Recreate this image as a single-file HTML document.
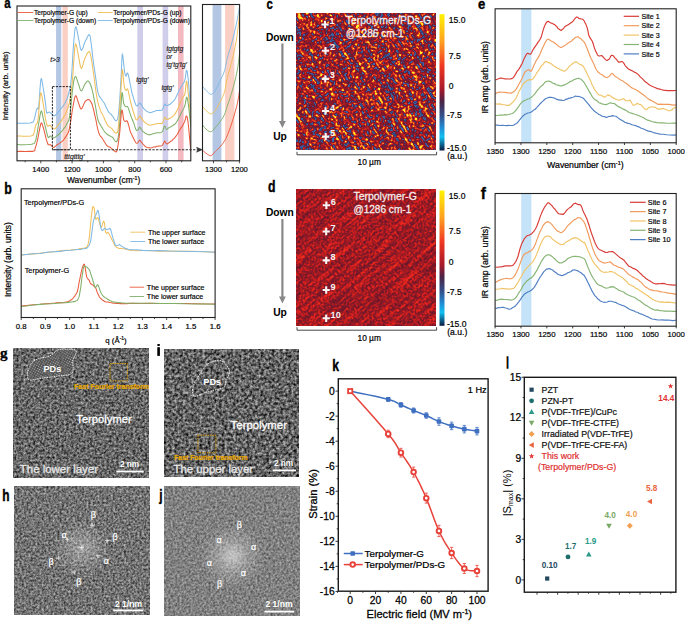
<!DOCTYPE html>
<html><head><meta charset="utf-8"><style>
html,body{margin:0;padding:0;background:#fff;width:685px;height:621px;overflow:hidden}
svg{display:block}
text{font-family:"Liberation Sans",sans-serif}
</style></head><body>
<svg width="685" height="621" viewBox="0 0 685 621" font-family="Liberation Sans, sans-serif">
<defs>
<filter id="hmc" x="0" y="0" width="1" height="1" color-interpolation-filters="sRGB" primitiveUnits="userSpaceOnUse">
 <feTurbulence type="fractalNoise" baseFrequency="0.42" numOctaves="1" seed="11" result="f"/>
 <feTurbulence type="fractalNoise" baseFrequency="0.03 0.28" numOctaves="2" seed="3" result="s"/>
 <feComposite in="f" in2="s" operator="arithmetic" k2="0.68" k3="0.32" result="m"/>
 <feColorMatrix in="m" type="matrix" values="3.0 0 0 0 -1.0  3.0 0 0 0 -1.0  3.0 0 0 0 -1.0  0 0 0 0 1" result="g"/>
 <feComponentTransfer in="g">
  <feFuncR type="table" tableValues="0.157 0.176 0.195 0.213 0.231 0.252 0.275 0.340 0.389 0.422 0.454 0.493 0.538 0.583 0.627 0.692 0.756 0.815 0.857 0.899 0.925 0.946 0.964 0.977 0.989 1.000"/>
  <feFuncG type="table" tableValues="0.275 0.322 0.369 0.403 0.426 0.347 0.235 0.157 0.114 0.106 0.098 0.095 0.097 0.100 0.102 0.113 0.125 0.147 0.204 0.260 0.359 0.473 0.597 0.731 0.840 0.941"/>
  <feFuncB type="table" tableValues="0.510 0.565 0.620 0.658 0.681 0.577 0.431 0.306 0.233 0.212 0.191 0.175 0.164 0.152 0.141 0.133 0.124 0.118 0.118 0.118 0.118 0.118 0.123 0.134 0.146 0.157"/>
 </feComponentTransfer>
</filter>
<filter id="hmd" x="0" y="0" width="1" height="1" color-interpolation-filters="sRGB" primitiveUnits="userSpaceOnUse">
 <feTurbulence type="fractalNoise" baseFrequency="0.5" numOctaves="2" seed="5" result="f"/>
 <feTurbulence type="fractalNoise" baseFrequency="0.03 0.3" numOctaves="2" seed="7" result="s"/>
 <feComposite in="f" in2="s" operator="arithmetic" k2="0.65" k3="0.35" result="m"/>
 <feColorMatrix in="m" type="matrix" values="2.4 0 0 0 -0.7  2.4 0 0 0 -0.7  2.4 0 0 0 -0.7  0 0 0 0 1" result="g"/>
 <feComponentTransfer in="g">
  <feFuncR type="table" tableValues="0.412 0.420 0.428 0.436 0.444 0.453 0.461 0.478 0.498 0.519 0.539 0.569 0.608 0.647 0.686 0.725 0.765 0.804 0.834 0.855 0.876 0.897 0.910 0.920 0.931 0.941"/>
  <feFuncG type="table" tableValues="0.086 0.088 0.089 0.090 0.091 0.093 0.094 0.096 0.097 0.099 0.101 0.103 0.105 0.108 0.110 0.114 0.119 0.123 0.129 0.135 0.141 0.147 0.162 0.180 0.198 0.216"/>
  <feFuncB type="table" tableValues="0.173 0.171 0.170 0.169 0.168 0.166 0.165 0.162 0.158 0.155 0.151 0.147 0.142 0.138 0.133 0.129 0.124 0.120 0.118 0.118 0.118 0.118 0.119 0.121 0.123 0.125"/>
 </feComponentTransfer>
</filter>
<filter id="temg" x="0" y="0" width="1" height="1" color-interpolation-filters="sRGB" primitiveUnits="userSpaceOnUse">
 <feTurbulence type="fractalNoise" baseFrequency="0.42" numOctaves="2" seed="2" result="n"/>
 <feColorMatrix in="n" type="matrix" values="1 0 0 0 0  1 0 0 0 0  1 0 0 0 0  0 0 0 0 1" result="g"/>
 <feComponentTransfer in="g">
  <feFuncR type="linear" slope="0.95" intercept="-0.07"/>
  <feFuncG type="linear" slope="0.95" intercept="-0.07"/>
  <feFuncB type="linear" slope="0.95" intercept="-0.07"/>
 </feComponentTransfer>
</filter>
<filter id="temi" x="0" y="0" width="1" height="1" color-interpolation-filters="sRGB" primitiveUnits="userSpaceOnUse">
 <feTurbulence type="fractalNoise" baseFrequency="0.36" numOctaves="2" seed="8" result="n"/>
 <feColorMatrix in="n" type="matrix" values="1 0 0 0 0  1 0 0 0 0  1 0 0 0 0  0 0 0 0 1" result="g"/>
 <feComponentTransfer in="g">
  <feFuncR type="linear" slope="1.1" intercept="-0.16"/>
  <feFuncG type="linear" slope="1.1" intercept="-0.16"/>
  <feFuncB type="linear" slope="1.1" intercept="-0.16"/>
 </feComponentTransfer>
</filter>
<filter id="temh" x="0" y="0" width="1" height="1" color-interpolation-filters="sRGB" primitiveUnits="userSpaceOnUse">
 <feTurbulence type="fractalNoise" baseFrequency="0.45" numOctaves="2" seed="4" result="n"/>
 <feColorMatrix in="n" type="matrix" values="1 0 0 0 0  1 0 0 0 0  1 0 0 0 0  0 0 0 0 1" result="g"/>
 <feComponentTransfer in="g">
  <feFuncR type="linear" slope="0.8" intercept="0.05"/>
  <feFuncG type="linear" slope="0.8" intercept="0.05"/>
  <feFuncB type="linear" slope="0.8" intercept="0.05"/>
 </feComponentTransfer>
</filter>
<filter id="temj" x="0" y="0" width="1" height="1" color-interpolation-filters="sRGB" primitiveUnits="userSpaceOnUse">
 <feTurbulence type="fractalNoise" baseFrequency="0.45" numOctaves="2" seed="9" result="n"/>
 <feColorMatrix in="n" type="matrix" values="1 0 0 0 0  1 0 0 0 0  1 0 0 0 0  0 0 0 0 1" result="g"/>
 <feComponentTransfer in="g">
  <feFuncR type="linear" slope="0.55" intercept="0.23"/>
  <feFuncG type="linear" slope="0.55" intercept="0.23"/>
  <feFuncB type="linear" slope="0.55" intercept="0.23"/>
 </feComponentTransfer>
</filter>
<radialGradient id="glowh" cx="0.5" cy="0.5" r="0.5"><stop offset="0" stop-color="#fff" stop-opacity="0.35"/><stop offset="1" stop-color="#fff" stop-opacity="0"/></radialGradient>
<radialGradient id="glowj" cx="0.5" cy="0.5" r="0.5"><stop offset="0" stop-color="#fff" stop-opacity="0.55"/><stop offset="0.5" stop-color="#fff" stop-opacity="0.2"/><stop offset="1" stop-color="#fff" stop-opacity="0"/></radialGradient>
<linearGradient id="cbar" x1="0" y1="0" x2="0" y2="1">
 <stop offset="0" stop-color="#fff200"/>
 <stop offset="0.2" stop-color="#ffa020"/>
 <stop offset="0.38" stop-color="#f03822"/>
 <stop offset="0.55" stop-color="#a8182a"/>
 <stop offset="0.64" stop-color="#4a2446"/>
 <stop offset="0.74" stop-color="#344e88"/>
 <stop offset="0.84" stop-color="#2090d8"/>
 <stop offset="0.9" stop-color="#10c0f2"/>
 <stop offset="1" stop-color="#0a1a40"/>
</linearGradient>
<clipPath id="clipc"><rect x="296" y="13" width="140" height="137"/></clipPath>
<clipPath id="clipd"><rect x="296" y="189" width="140" height="137"/></clipPath>
</defs>
<rect x="56.1" y="6" width="5.2" height="154.8" fill="#b3c6e3" stroke="none" stroke-width="1" />
<rect x="62.5" y="6" width="5.3" height="154.8" fill="#fbd0c4" stroke="none" stroke-width="1" />
<rect x="137.3" y="6" width="5.7" height="154.8" fill="#cfcdea" stroke="none" stroke-width="1" />
<rect x="162.6" y="6" width="5.6" height="154.8" fill="#cfcdea" stroke="none" stroke-width="1" />
<rect x="178" y="6" width="5.6" height="154.8" fill="#f4b9c0" stroke="none" stroke-width="1" />
<rect x="212.6" y="4.5" width="8.8" height="156.3" fill="#b3c6e3" stroke="none" stroke-width="1" />
<rect x="225.1" y="4.5" width="9.3" height="156.3" fill="#fbd0c4" stroke="none" stroke-width="1" />
<clipPath id="clipa"><rect x="17" y="6" width="173.8" height="155.5"/></clipPath><g clip-path="url(#clipa)">
<path d="M17 123.17 L19.55 123.29 L23.27 123.15 L27.1 123.17 L30 122.96 L31.62 122.44 L32.54 122.15 L33.12 122.07 L33.7 120.88 L34.31 119.34 L34.78 117.72 L35.18 115.35 L35.6 113.67 L36.05 111.87 L36.48 110.41 L36.9 108.84 L37.3 108.07 L37.65 108.24 L37.97 108.89 L38.3 109.14 L38.7 107.09 L39.19 100.92 L39.75 92.77 L40.33 84.47 L40.9 79.3 L41.45 78.51 L42 80.95 L42.55 84.09 L43.1 87.51 L43.67 90.84 L44.25 94.58 L44.81 98.59 L45.3 101.85 L45.69 105.3 L46 108.28 L46.31 111.2 L46.7 112.99 L47.19 113.17 L47.75 112.81 L48.33 112.17 L48.9 112.23 L49.43 112.16 L49.96 112.63 L50.5 112.92 L51.1 113.5 L51.79 114.03 L52.56 114.71 L53.31 115.44 L54 115.74 L54.53 115.87 L54.96 115.5 L55.43 115.13 L56.1 114.38 L57.04 113.44 L58.16 112 L59.35 110.34 L60.5 109.28 L61.6 108 L62.7 106.63 L63.78 105 L64.8 103.41 L65.77 101.35 L66.69 99.75 L67.57 97.39 L68.4 94.49 L69.19 91.33 L69.94 88.39 L70.64 84.34 L71.3 78.49 L71.9 71.31 L72.45 61.95 L72.97 52.58 L73.5 44.9 L74.01 38.81 L74.51 33.28 L75.02 28.69 L75.6 26.86 L76.27 27.27 L77.01 30.59 L77.76 34.34 L78.5 38.19 L79.19 41.77 L79.85 45.48 L80.54 49.07 L81.3 50.4 L82.15 49.61 L83.06 47.54 L84.02 44.3 L85 41.85 L86.07 39.7 L87.22 37.42 L88.31 35.3 L89.2 34.47 L89.81 35.43 L90.23 36.68 L90.59 39.31 L91 42.2 L91.5 45.73 L92.01 50.43 L92.55 55.39 L93.1 60.07 L93.68 64.2 L94.28 68.19 L94.89 72.17 L95.5 76.32 L96.08 80.38 L96.65 84.77 L97.24 89.05 L97.9 92.17 L98.64 94.53 L99.44 96.45 L100.27 97.45 L101.1 98.72 L101.9 99.69 L102.7 100.95 L103.52 102.15 L104.4 103.26 L105.37 105.47 L106.41 107.72 L107.44 109.62 L108.4 111.66 L109.26 112.69 L110.05 113.49 L110.82 113.92 L111.6 114.9 L112.44 116.12 L113.29 117.16 L114.11 118.5 L114.8 119.79 L115.33 120.53 L115.75 120.53 L116.12 120.71 L116.5 120.55 L116.91 120.03 L117.31 119.49 L117.7 118.38 L118.1 116.43 L118.5 113.62 L118.9 109.76 L119.3 105.36 L119.7 100.44 L120.11 93.8 L120.53 86.8 L120.94 79.53 L121.3 72.81 L121.59 66.59 L121.82 60.81 L122.07 55.85 L122.4 53.84 L122.87 56.04 L123.42 61.27 L123.99 66.81 L124.5 71.21 L124.94 73.48 L125.33 75.15 L125.71 75.72 L126.1 76.28 L126.48 75.36 L126.84 74.01 L127.24 72.94 L127.7 73.09 L128.27 74.7 L128.91 77.56 L129.57 80.9 L130.2 84.21 L130.76 86.74 L131.29 89.68 L131.85 92.29 L132.5 94.54 L133.31 97.36 L134.24 100.5 L135.14 103 L135.9 104.95 L136.43 105.68 L136.83 105.86 L137.18 105.83 L137.6 105.85 L138.12 105.06 L138.68 104.22 L139.25 103.42 L139.8 103.06 L140.28 103.3 L140.73 104.19 L141.21 104.64 L141.8 105.45 L142.53 106.9 L143.36 108 L144.26 109.18 L145.2 109.87 L146.19 110.95 L147.24 111.68 L148.32 111.91 L149.4 112.52 L150.47 112.61 L151.55 112.31 L152.63 111.91 L153.7 111.49 L154.76 111.23 L155.81 110.84 L156.85 110.44 L157.9 110.44 L158.99 110.25 L160.11 110.6 L161.17 110.16 L162.1 110.1 L162.86 108.72 L163.51 107.02 L164.07 105.27 L164.6 104.2 L165.06 103.99 L165.44 104.29 L165.83 105.4 L166.3 105.54 L166.87 105.6 L167.5 105.59 L168.18 105.21 L168.9 104.76 L169.67 104.55 L170.5 103.81 L171.35 103 L172.2 102.18 L173.04 101.63 L173.89 100.51 L174.75 99.57 L175.6 98.03 L176.45 96.25 L177.3 94.42 L178.15 92.52 L179 90.34 L179.87 89.01 L180.76 87.55 L181.61 86.08 L182.4 84.76 L183.11 83.3 L183.76 82.78 L184.35 81.93 L184.9 80.07 L185.38 77.6 L185.8 74.23 L186.19 71.45 L186.6 70.16 L187.03 71.01 L187.45 73.38 L187.87 76.22 L188.3 80.08 L188.74 85.06 L189.19 91.14 L189.62 97.17 L190 102.54 L190.32 105.99 L190.61 108.32 L190.84 110.55 L191 111.91" fill="none" stroke="#7fb9e6" stroke-width="1.05" stroke-linejoin="round" />
<path d="M17 135.91 L19.74 135.98 L23.72 136.21 L27.79 136.2 L30.8 135.93 L32.31 135.6 L32.98 135.36 L33.29 134.67 L33.7 133.83 L34.28 132.11 L34.79 129.57 L35.29 126.96 L35.8 124.94 L36.33 124.02 L36.87 123.73 L37.42 122.86 L38 119.94 L38.62 114.11 L39.28 105.71 L39.95 97.78 L40.6 93.14 L41.24 93.03 L41.88 95.77 L42.5 99.56 L43.1 103.4 L43.67 106.75 L44.23 110.55 L44.76 114.55 L45.3 117.9 L45.83 120.25 L46.35 122.71 L46.87 124.53 L47.4 125.99 L47.94 126.39 L48.49 125.76 L49.05 125.48 L49.6 125.25 L50.13 125.32 L50.66 125.99 L51.2 126.46 L51.8 127.36 L52.48 127.8 L53.21 128.46 L53.96 128.79 L54.7 128.78 L55.39 128.47 L56.06 127.74 L56.78 126.63 L57.6 125.84 L58.57 124.36 L59.66 123.04 L60.79 121.81 L61.9 119.77 L63.03 117.97 L64.19 115.98 L65.3 114.29 L66.3 111.84 L67.15 109.74 L67.89 108.13 L68.57 105.6 L69.2 103.47 L69.8 100.47 L70.34 97.33 L70.84 93.98 L71.3 90.34 L71.72 87.01 L72.11 83.12 L72.46 79.83 L72.8 75.81 L73.11 71.61 L73.39 66.69 L73.68 62.41 L74 58.22 L74.34 53.34 L74.69 48.88 L75.1 45.35 L75.6 43.86 L76.24 44.77 L76.97 48.01 L77.75 52.16 L78.5 56.06 L79.19 59.78 L79.85 63.62 L80.54 66.92 L81.3 68.45 L82.15 67.32 L83.06 64.39 L84.02 60.67 L85 58 L86.06 56 L87.19 53.58 L88.27 52.19 L89.2 51.43 L89.91 52.57 L90.46 54.52 L90.96 57.1 L91.5 60.01 L92.07 63.32 L92.64 67.23 L93.24 71.64 L93.9 75.92 L94.64 81.36 L95.45 87.82 L96.28 93.9 L97.1 98.71 L97.9 102.4 L98.7 105.47 L99.5 107.62 L100.3 109.88 L101.08 111.76 L101.84 113.45 L102.64 114.73 L103.5 116.37 L104.46 118.77 L105.5 121.33 L106.56 123.34 L107.6 125.4 L108.63 126.43 L109.66 127.37 L110.66 127.81 L111.6 128.38 L112.49 129.41 L113.34 130.49 L114.12 131.81 L114.8 132.54 L115.33 132.87 L115.75 133.16 L116.12 133.09 L116.5 133.04 L116.91 132.52 L117.31 132.73 L117.7 131.58 L118.1 129.45 L118.5 125.44 L118.9 120.36 L119.3 114.45 L119.7 108.43 L120.11 102.34 L120.53 96 L120.94 89.82 L121.3 84.15 L121.59 79.29 L121.84 74.66 L122.09 70.93 L122.4 69.56 L122.8 71.71 L123.25 76.65 L123.73 81.94 L124.2 86.03 L124.67 88.12 L125.16 89.18 L125.64 89.96 L126.1 90.48 L126.5 90.19 L126.86 89.5 L127.24 88.82 L127.7 89.2 L128.27 90.85 L128.91 94.18 L129.57 97.26 L130.2 100.26 L130.76 102.76 L131.29 104.57 L131.85 106.66 L132.5 109.27 L133.31 111.67 L134.24 114.63 L135.14 117.39 L135.9 119.29 L136.43 119.74 L136.83 119.96 L137.18 119.64 L137.6 119.19 L138.12 118.29 L138.68 117.35 L139.25 116.5 L139.8 115.75 L140.28 116.13 L140.73 116.72 L141.21 117.82 L141.8 118.98 L142.53 119.62 L143.36 120.98 L144.26 121.95 L145.2 122.4 L146.19 123.61 L147.24 124.07 L148.32 124.87 L149.4 125.23 L150.47 125.03 L151.55 125 L152.63 124.66 L153.7 124.45 L154.76 123.94 L155.81 123.93 L156.85 123.79 L157.9 123.49 L158.99 123.49 L160.11 123.52 L161.17 123.79 L162.1 123.33 L162.86 122.27 L163.51 120.43 L164.07 118.61 L164.6 117.34 L165.06 117.51 L165.44 118.07 L165.83 118.58 L166.3 119.39 L166.87 119.39 L167.5 119.11 L168.18 119.37 L168.9 118.72 L169.67 118.43 L170.5 118.1 L171.35 117.43 L172.2 116.73 L173.04 116.11 L173.89 115.32 L174.75 114.38 L175.6 113.14 L176.45 111.48 L177.3 109.87 L178.15 107.83 L179 105.72 L179.87 103.84 L180.76 101.62 L181.61 99.64 L182.4 98.04 L183.11 97.2 L183.76 96.09 L184.35 95.47 L184.9 93.77 L185.38 90.86 L185.8 86.42 L186.19 82.7 L186.6 81.15 L187.03 82.51 L187.45 85.84 L187.87 89.76 L188.3 94.07 L188.74 97.82 L189.19 102.45 L189.62 106.82 L190 110.61 L190.32 114 L190.61 116.57 L190.84 118.37 L191 119.84" fill="none" stroke="#f0bf5a" stroke-width="1.05" stroke-linejoin="round" />
<path d="M17 144.56 L19.86 144.7 L24.03 144.71 L28.3 144.58 L31.5 144.25 L33.2 143.71 L34.07 143.46 L34.55 142.71 L35.1 141.71 L35.72 140.14 L36.2 138.01 L36.68 135.5 L37.3 132.44 L38.13 126.99 L39.1 120.96 L40.07 115.08 L40.9 111.52 L41.53 110.81 L42.04 112.54 L42.53 115.21 L43.1 117.87 L43.79 120.66 L44.55 123.6 L45.31 126.53 L46 129.58 L46.6 131.87 L47.15 134.27 L47.67 136.27 L48.2 137.15 L48.71 137.74 L49.21 137.09 L49.72 136.23 L50.3 135.91 L50.93 136.29 L51.61 136.93 L52.35 137.84 L53.2 137.87 L54.2 137.77 L55.31 137.13 L56.47 136.12 L57.6 135.23 L58.68 134.49 L59.75 133.43 L60.82 131.93 L61.9 131.05 L63.01 129.72 L64.14 128.14 L65.25 126.82 L66.3 124.97 L67.27 123.05 L68.19 121.38 L69.07 118.98 L69.9 114.81 L70.68 109.04 L71.42 101.3 L72.12 93.34 L72.8 87.58 L73.44 83.08 L74.03 79.86 L74.64 77.48 L75.3 76.42 L76.06 76.84 L76.88 79.17 L77.71 81.89 L78.5 84.18 L79.21 86.11 L79.87 88.59 L80.55 90.32 L81.3 90.9 L82.17 90.04 L83.12 88.08 L84.09 85.84 L85 84.03 L85.83 82.91 L86.62 81.87 L87.4 81.06 L88.2 80.96 L89.02 81.81 L89.85 83 L90.68 84.99 L91.5 87.53 L92.31 90.33 L93.11 93.78 L93.9 98.05 L94.7 102.01 L95.5 106.32 L96.3 111.24 L97.1 115.99 L97.9 119.75 L98.68 121.96 L99.44 123.36 L100.24 124.61 L101.1 126.24 L102.06 127.62 L103.1 129.53 L104.16 131.05 L105.2 132.45 L106.23 133.5 L107.26 134.46 L108.26 135.02 L109.2 135.56 L110.06 136.06 L110.85 136.38 L111.62 136.86 L112.4 137.18 L113.24 138.13 L114.09 139.58 L114.91 140.72 L115.6 141.6 L116.13 141.57 L116.55 141.76 L116.92 141.39 L117.3 140.36 L117.7 139.71 L118.09 137.92 L118.48 135.7 L118.9 132.59 L119.37 127.33 L119.87 121.07 L120.36 114.18 L120.8 108.21 L121.16 102.94 L121.47 98.25 L121.77 94.1 L122.1 92.44 L122.46 93.35 L122.83 96.9 L123.24 100.52 L123.7 103.37 L124.26 104.84 L124.9 106.01 L125.54 106.46 L126.1 106.72 L126.52 106.6 L126.84 106.49 L127.2 106.43 L127.7 106.85 L128.43 108.39 L129.3 111.07 L130.2 113.93 L131 116.34 L131.66 117.92 L132.25 119.23 L132.81 120.76 L133.4 122.3 L134.04 123.79 L134.69 126.23 L135.33 127.89 L135.9 129.45 L136.37 130.27 L136.77 130.6 L137.16 130.16 L137.6 130.1 L138.12 129.66 L138.68 128.85 L139.25 127.5 L139.8 127.2 L140.28 127.79 L140.73 128.19 L141.21 129.28 L141.8 130.12 L142.53 131.05 L143.36 131.95 L144.26 132.3 L145.2 133.22 L146.19 133.77 L147.24 134.32 L148.32 134.55 L149.4 134.91 L150.47 134.54 L151.55 134.26 L152.63 133.79 L153.7 133.74 L154.76 133.35 L155.81 133.02 L156.85 132.75 L157.9 132.81 L158.99 132.67 L160.11 132.72 L161.17 132.4 L162.1 131.89 L162.86 130.39 L163.51 128.8 L164.07 126.71 L164.6 125.98 L165.06 126.42 L165.44 127.48 L165.83 128.41 L166.3 129.17 L166.87 129.4 L167.5 128.83 L168.18 128.32 L168.9 127.79 L169.67 127.19 L170.5 127.05 L171.35 126.58 L172.2 125.92 L173.04 125.43 L173.89 124.75 L174.75 124.26 L175.6 123.63 L176.45 121.98 L177.3 120.74 L178.15 118.91 L179 117.29 L179.87 115.92 L180.76 113.97 L181.61 112.16 L182.4 110.63 L183.11 109.56 L183.76 108.41 L184.35 106.93 L184.9 105.56 L185.38 103.69 L185.8 100.57 L186.19 98.36 L186.6 97.16 L187.03 97.77 L187.45 99.17 L187.87 101.5 L188.3 104.02 L188.74 107.23 L189.19 111.38 L189.62 115.51 L190 119.36 L190.32 121.66 L190.61 123.81 L190.84 126.01 L191 126.85" fill="none" stroke="#7fb06a" stroke-width="1.05" stroke-linejoin="round" />
<path d="M17 151.6 L20.2 151.22 L24.87 151.46 L29.6 151.31 L33 151.36 L34.5 150.83 L34.91 150.26 L34.89 149.53 L35.1 148.49 L35.61 146.94 L36.11 145.61 L36.65 143.61 L37.3 140.81 L38.13 137.04 L39.1 131.67 L40.07 126.87 L40.9 123.45 L41.53 122.87 L42.04 123.61 L42.53 125.41 L43.1 126.99 L43.79 129.44 L44.55 132.46 L45.31 135.3 L46 138.13 L46.6 140.3 L47.15 141.99 L47.67 143.61 L48.2 144.65 L48.71 144.85 L49.21 144.75 L49.72 144.8 L50.3 144.52 L50.97 145.2 L51.7 145.97 L52.46 146.92 L53.2 147.33 L53.89 147.56 L54.56 146.93 L55.27 146.29 L56.1 145.64 L57.1 144.82 L58.21 144.31 L59.37 143.37 L60.5 142.46 L61.58 141.83 L62.65 140.86 L63.72 139.76 L64.8 138.09 L65.91 136.67 L67.04 134.78 L68.15 132.84 L69.2 129.61 L70.17 124.56 L71.1 118.98 L71.97 112.6 L72.8 107.5 L73.55 103.65 L74.24 99.73 L74.91 97.04 L75.6 95.67 L76.32 95.88 L77.05 98.29 L77.78 100.67 L78.5 102.97 L79.19 104.85 L79.85 107.08 L80.54 108.66 L81.3 108.99 L82.15 107.92 L83.07 105.93 L84.03 103.63 L85 101.69 L86 100.6 L87.03 100.03 L88.04 99.52 L89 99.74 L89.88 100.43 L90.7 101.58 L91.5 103.02 L92.3 105.03 L93.11 107.79 L93.91 111.08 L94.7 114.61 L95.5 118.12 L96.28 121.73 L97.05 125.93 L97.84 129.4 L98.7 132.58 L99.64 134.96 L100.64 136.45 L101.67 137.48 L102.7 138.87 L103.72 140.87 L104.75 142.26 L105.78 143.98 L106.8 145.52 L107.83 146.41 L108.86 146.79 L109.86 147.17 L110.8 147.75 L111.69 148.65 L112.55 149.13 L113.33 150 L114 150.44 L114.51 151.09 L114.89 151.17 L115.23 151.64 L115.6 151.66 L116 151.89 L116.4 151.78 L116.82 150.99 L117.3 149.52 L117.86 146.23 L118.48 142.22 L119.1 137.44 L119.7 132.75 L120.25 126.55 L120.78 119.52 L121.3 113.28 L121.8 109.96 L122.3 110.41 L122.78 113.43 L123.25 117.29 L123.7 119.85 L124.11 120.58 L124.49 120.92 L124.88 121.33 L125.3 121.44 L125.75 121.19 L126.22 120.96 L126.73 120.68 L127.3 121.19 L127.98 122.99 L128.73 125.59 L129.5 128.74 L130.2 131.2 L130.79 132.76 L131.32 133.72 L131.86 134.9 L132.5 136.31 L133.31 137.98 L134.24 139.82 L135.14 141.52 L135.9 142.81 L136.43 143.17 L136.83 143.22 L137.18 143.22 L137.6 143.05 L138.12 142.26 L138.68 141.35 L139.25 140.56 L139.8 140.28 L140.28 140.7 L140.73 141.16 L141.21 142.22 L141.8 142.63 L142.53 143.53 L143.36 144.56 L144.26 145.4 L145.2 146.38 L146.19 146.97 L147.24 147.53 L148.32 147.75 L149.4 147.67 L150.47 147.92 L151.55 147.69 L152.63 147.36 L153.7 146.99 L154.76 146.98 L155.81 146.86 L156.85 146.22 L157.9 146.28 L158.99 146.01 L160.11 146.01 L161.17 146.03 L162.1 145.63 L162.86 144.5 L163.51 142.94 L164.07 142.07 L164.6 141.04 L165.06 141.38 L165.44 142.41 L165.83 143.07 L166.3 143.59 L166.87 143.98 L167.5 143.78 L168.18 143.13 L168.9 142.75 L169.67 142.2 L170.5 141.52 L171.35 140.9 L172.2 140.54 L173.04 139.36 L173.89 138.68 L174.75 137.8 L175.6 136.69 L176.45 135.59 L177.3 134.17 L178.15 132.64 L179 131.07 L179.87 129.85 L180.76 128.2 L181.61 127.13 L182.4 126.23 L183.11 124.52 L183.76 123.34 L184.35 122.17 L184.9 120.78 L185.38 119.33 L185.8 117.27 L186.19 115.99 L186.6 116.03 L187.03 116.56 L187.45 118.78 L187.87 120.99 L188.3 124.55 L188.74 128.53 L189.19 133.58 L189.62 138.42 L190 142.58 L190.32 146.1 L190.61 148.39 L190.84 150.41 L191 152.16" fill="none" stroke="#ea5b3e" stroke-width="1.05" stroke-linejoin="round" />
</g>
<rect x="52.4" y="86.6" width="18" height="63.1" fill="none" stroke="#222" stroke-width="1.0" stroke-dasharray="2.2 1.2"/>
<line x1="52.4" y1="149.7" x2="198" y2="149.7" stroke="#333" stroke-width="1.1" stroke-dasharray="2.4 1.3"/>
<path d="M196.5 147.2 L202.4 149.7 L196.5 152.2 L197.8 149.7 Z" fill="#333" stroke="#333" stroke-width="0.5"/>
<path d="M202.5 86.4 L203.38 87.41 L204.65 88.88 L206.04 90.43 L207.3 91.7 L208.36 92.71 L209.35 93.63 L210.32 94.26 L211.3 94.4 L212.27 94.03 L213.22 93.23 L214.21 92.02 L215.3 90.4 L216.56 88.18 L217.95 85.43 L219.34 82.51 L220.6 79.8 L221.72 77.45 L222.77 75.24 L223.73 72.98 L224.6 70.5 L225.32 67.72 L225.9 64.75 L226.48 61.65 L227.2 58.5 L228.1 55.33 L229.11 52.1 L230.17 48.75 L231.2 45.2 L232.23 41.32 L233.28 37.19 L234.29 33.07 L235.2 29.2 L235.99 25.64 L236.69 22.27 L237.32 19.06 L237.9 16 L238.46 12.9 L238.97 9.82 L239.4 7.16 L239.7 5.3" fill="none" stroke="#7fb9e6" stroke-width="0.95" stroke-linejoin="round" />
<path d="M202.5 106.4 L203.38 107.43 L204.65 108.92 L206.04 110.48 L207.3 111.7 L208.36 112.58 L209.35 113.3 L210.32 113.74 L211.3 113.8 L212.27 113.45 L213.22 112.76 L214.21 111.71 L215.3 110.3 L216.56 108.38 L217.95 106.01 L219.34 103.46 L220.6 101 L221.72 98.77 L222.77 96.6 L223.73 94.31 L224.6 91.7 L225.32 88.69 L225.9 85.38 L226.48 81.91 L227.2 78.4 L228.1 74.9 L229.11 71.35 L230.17 67.67 L231.2 63.8 L232.23 59.66 L233.28 55.32 L234.29 50.89 L235.2 46.5 L235.99 42.21 L236.69 37.93 L237.32 33.62 L237.9 29.2 L238.46 24.21 L238.97 18.82 L239.4 13.97 L239.7 10.6" fill="none" stroke="#f0bf5a" stroke-width="0.95" stroke-linejoin="round" />
<path d="M202.5 125 L203.38 126.05 L204.65 127.57 L206.04 129.13 L207.3 130.3 L208.36 131.03 L209.35 131.53 L210.32 131.74 L211.3 131.6 L212.27 131.03 L213.22 130.09 L214.21 128.91 L215.3 127.6 L216.56 126.14 L217.95 124.47 L219.34 122.72 L220.6 121 L221.72 119.36 L222.77 117.73 L223.73 116.06 L224.6 114.3 L225.32 112.51 L225.9 110.68 L226.48 108.69 L227.2 106.4 L228.1 103.75 L229.11 100.82 L230.17 97.68 L231.2 94.4 L232.23 90.9 L233.28 87.18 L234.29 83.42 L235.2 79.8 L235.99 76.42 L236.69 73.16 L237.32 69.89 L237.9 66.5 L238.46 62.58 L238.97 58.32 L239.4 54.47 L239.7 51.8" fill="none" stroke="#7fb06a" stroke-width="0.95" stroke-linejoin="round" />
<path d="M202.5 150.2 L203.38 150.98 L204.65 152.12 L206.04 153.3 L207.3 154.2 L208.36 154.84 L209.35 155.34 L210.32 155.6 L211.3 155.5 L212.27 154.93 L213.22 153.97 L214.21 152.8 L215.3 151.6 L216.56 150.35 L217.95 148.99 L219.34 147.58 L220.6 146.2 L221.72 144.87 L222.77 143.54 L223.73 142.22 L224.6 140.9 L225.32 139.7 L225.9 138.58 L226.48 137.3 L227.2 135.6 L228.1 133.39 L229.11 130.8 L230.17 127.96 L231.2 125 L232.23 121.8 L233.28 118.36 L234.29 114.91 L235.2 111.7 L235.99 108.87 L236.69 106.26 L237.32 103.7 L237.9 101 L238.46 97.83 L238.97 94.38 L239.4 91.27 L239.7 89.1" fill="none" stroke="#ea5b3e" stroke-width="0.95" stroke-linejoin="round" />
<rect x="17" y="6" width="173.8" height="154.8" fill="none" stroke="#222" stroke-width="1.1" />
<rect x="202.5" y="4.5" width="37.1" height="156.3" fill="none" stroke="#222" stroke-width="1.1" />
<line x1="25.15" y1="160.8" x2="25.15" y2="162.3" stroke="#222" stroke-width="0.8" />
<line x1="40.8" y1="160.8" x2="40.8" y2="163.3" stroke="#222" stroke-width="0.8" />
<line x1="56.45" y1="160.8" x2="56.45" y2="162.3" stroke="#222" stroke-width="0.8" />
<line x1="72.1" y1="160.8" x2="72.1" y2="163.3" stroke="#222" stroke-width="0.8" />
<line x1="87.75" y1="160.8" x2="87.75" y2="162.3" stroke="#222" stroke-width="0.8" />
<line x1="103.4" y1="160.8" x2="103.4" y2="163.3" stroke="#222" stroke-width="0.8" />
<line x1="119.05" y1="160.8" x2="119.05" y2="162.3" stroke="#222" stroke-width="0.8" />
<line x1="134.7" y1="160.8" x2="134.7" y2="163.3" stroke="#222" stroke-width="0.8" />
<line x1="150.35" y1="160.8" x2="150.35" y2="162.3" stroke="#222" stroke-width="0.8" />
<line x1="166" y1="160.8" x2="166" y2="163.3" stroke="#222" stroke-width="0.8" />
<line x1="181.65" y1="160.8" x2="181.65" y2="162.3" stroke="#222" stroke-width="0.8" />
<text x="40.8" y="171.6" font-size="7.6" text-anchor="middle" font-weight="normal" fill="#000" stroke="#000" stroke-width="0.186" >1400</text>
<text x="72.1" y="171.6" font-size="7.6" text-anchor="middle" font-weight="normal" fill="#000" stroke="#000" stroke-width="0.186" >1200</text>
<text x="103.4" y="171.6" font-size="7.6" text-anchor="middle" font-weight="normal" fill="#000" stroke="#000" stroke-width="0.186" >1000</text>
<text x="134.7" y="171.6" font-size="7.6" text-anchor="middle" font-weight="normal" fill="#000" stroke="#000" stroke-width="0.186" >800</text>
<text x="166" y="171.6" font-size="7.6" text-anchor="middle" font-weight="normal" fill="#000" stroke="#000" stroke-width="0.186" >600</text>
<line x1="213.5" y1="160.8" x2="213.5" y2="163.3" stroke="#222" stroke-width="0.8" />
<text x="213.5" y="171.6" font-size="7.6" text-anchor="middle" font-weight="normal" fill="#000" stroke="#000" stroke-width="0.186" >1300</text>
<line x1="239.4" y1="160.8" x2="239.4" y2="163.3" stroke="#222" stroke-width="0.8" />
<text x="239.4" y="171.6" font-size="7.6" text-anchor="middle" font-weight="normal" fill="#000" stroke="#000" stroke-width="0.186" >1200</text>
<line x1="226.5" y1="160.8" x2="226.5" y2="162.3" stroke="#222" stroke-width="0.8" />
<text x="103.6" y="182.6" font-size="8.4" text-anchor="middle" font-weight="normal" fill="#000" stroke="#000" stroke-width="0.205" >Wavenumber (cm<tspan dy="-3" font-size="5.3">-1</tspan><tspan dy="3">)</tspan></text>
<text x="8.1" y="85.8" font-size="7.83" text-anchor="middle" font-weight="normal" fill="#000" stroke="#000" stroke-width="0.191" transform="rotate(-90 8.1 85.8)">Intensity (arb. units)</text>
<line x1="17.6" y1="12.5" x2="33.4" y2="12.5" stroke="#ea5b3e" stroke-width="0.9" />
<text x="33.9" y="14.9" font-size="6.65" text-anchor="start" font-weight="normal" fill="#000" stroke="#000" stroke-width="0.163" >Terpolymer-G (up)</text>
<line x1="17.6" y1="20.5" x2="33.4" y2="20.5" stroke="#7fb06a" stroke-width="0.9" />
<text x="33.9" y="22.9" font-size="6.65" text-anchor="start" font-weight="normal" fill="#000" stroke="#000" stroke-width="0.163" >Terpolymer-G (down)</text>
<line x1="97.8" y1="12.5" x2="112.7" y2="12.5" stroke="#f0bf5a" stroke-width="0.9" />
<text x="113.2" y="14.9" font-size="6.65" text-anchor="start" font-weight="normal" fill="#000" stroke="#000" stroke-width="0.163" >Terpolymer/PDs-G (up)</text>
<line x1="97.8" y1="20.5" x2="112.7" y2="20.5" stroke="#7fb9e6" stroke-width="0.9" />
<text x="113.2" y="22.9" font-size="6.65" text-anchor="start" font-weight="normal" fill="#000" stroke="#000" stroke-width="0.163" >Terpolymer/PDs-G (down)</text>
<text x="50.2" y="62.4" font-size="7.6" text-anchor="start" font-weight="normal" fill="#1a1a1a" stroke="#1a1a1a" stroke-width="0.186" font-style="italic" textLength="9.6" lengthAdjust="spacingAndGlyphs">t&gt;3</text>
<text x="64.2" y="158.6" font-size="7.6" text-anchor="start" font-weight="normal" fill="#1a1a1a" stroke="#1a1a1a" stroke-width="0.186" font-style="italic" textLength="20.5" lengthAdjust="spacingAndGlyphs">tttgtttg&#8217;</text>
<text x="136.2" y="82.3" font-size="7.6" text-anchor="start" font-weight="normal" fill="#1a1a1a" stroke="#1a1a1a" stroke-width="0.186" font-style="italic" textLength="12.4" lengthAdjust="spacingAndGlyphs">tgtg&#8217;</text>
<text x="161.4" y="90" font-size="7.6" text-anchor="start" font-weight="normal" fill="#1a1a1a" stroke="#1a1a1a" stroke-width="0.186" font-style="italic" textLength="12.2" lengthAdjust="spacingAndGlyphs">tgtg&#8217;</text>
<text x="166.4" y="51" font-size="7.6" text-anchor="start" font-weight="normal" fill="#1a1a1a" stroke="#1a1a1a" stroke-width="0.186" font-style="italic" textLength="16.7" lengthAdjust="spacingAndGlyphs">tgtgtg</text>
<text x="166.4" y="58.7" font-size="7.6" text-anchor="start" font-weight="normal" fill="#1a1a1a" stroke="#1a1a1a" stroke-width="0.186" font-style="italic" textLength="5.6" lengthAdjust="spacingAndGlyphs">or</text>
<text x="166.4" y="66.9" font-size="7.6" text-anchor="start" font-weight="normal" fill="#1a1a1a" stroke="#1a1a1a" stroke-width="0.186" font-style="italic" textLength="20.6" lengthAdjust="spacingAndGlyphs">tg&#8217;tg&#8217;tg&#8217;</text>
<path d="M21.5 254.96 L26.24 254.53 L33.04 253.86 L40 253.22 L46.74 252.45 L53.65 251.85 L60 250.76 L65.67 250.39 L70.78 250.09 L75 249.47 L78.06 249.24 L80.22 248.57 L82 248.48 L83.49 248.15 L84.59 248.09 L85.5 247.84 L86.23 247.4 L86.76 247.28 L87.3 246.39 L87.9 244.98 L88.51 242.48 L89.1 238.73 L89.69 233.97 L90.26 227.53 L90.8 222.16 L91.3 217.12 L91.77 212.75 L92.2 209.89 L92.59 207.54 L92.94 206.53 L93.3 206.64 L93.67 207.02 L94.05 207.9 L94.4 209.93 L94.71 212.29 L95.01 215.44 L95.3 217.55 L95.6 218.93 L95.91 219.07 L96.2 219.23 L96.47 219.04 L96.73 218.34 L97 218.03 L97.29 217.65 L97.6 217.41 L97.9 217.48 L98.19 218.21 L98.47 219.31 L98.8 220.15 L99.2 221.9 L99.64 223.32 L100.1 224.7 L100.56 226.22 L101.04 227.11 L101.5 227.31 L101.96 226.35 L102.4 224.64 L102.8 222.78 L103.13 222.28 L103.41 221.13 L103.7 221.32 L104 221.74 L104.3 222.2 L104.6 224.04 L104.89 226.36 L105.17 229.57 L105.5 231.65 L105.9 232.68 L106.35 233.02 L106.8 233.43 L107.23 232.8 L107.67 232.58 L108.1 232.51 L108.51 232.97 L108.93 233.47 L109.4 234.43 L109.96 235.61 L110.58 236.99 L111.2 237.9 L111.77 239.35 L112.34 240.48 L113 241.78 L113.77 243.02 L114.63 245.27 L115.6 246.3 L116.7 247.27 L117.9 247.9 L119.2 248.41 L120.61 248.35 L122.1 248.73 L123.6 248.72 L125.08 249.01 L126.56 249.51 L128 249.84 L128.84 249.99 L129.64 250.12 L132 250.49 L136.52 250.78 L142.59 250.5 L150 250.57 L158.93 251.16 L169.19 251.05 L180 251.15 L192.59 251.34 L205.74 251.82 L215 252.16" fill="none" stroke="#f0bf5a" stroke-width="1.05" stroke-linejoin="round" />
<path d="M21.5 255.08 L26.24 254.57 L33.04 253.69 L40 253.41 L46.74 252.29 L53.65 251.84 L60 251.37 L65.67 250.41 L70.78 250.15 L75 249.82 L78.02 249.43 L80.16 249.4 L82 248.9 L83.74 248.85 L85.19 248.44 L86.4 248.37 L87.31 247.54 L87.98 246.92 L88.6 246.25 L89.25 245.01 L89.85 243.65 L90.4 241.58 L90.87 239.29 L91.28 236.71 L91.7 233.59 L92.16 229.96 L92.64 226.19 L93.1 222.82 L93.54 220.66 L93.97 219.28 L94.4 217.93 L94.84 216.83 L95.27 216.18 L95.7 215.42 L96.11 214.29 L96.52 213.29 L96.9 212.54 L97.25 211.59 L97.58 210.44 L97.9 210.34 L98.21 210.86 L98.5 211.94 L98.8 213.38 L99.1 215.24 L99.4 217.19 L99.7 219.6 L99.99 221.79 L100.27 224.38 L100.6 226.63 L101 228.18 L101.45 229.19 L101.9 230.32 L102.32 230.51 L102.74 230.41 L103.2 229.86 L103.71 229.56 L104.26 228.64 L104.8 228.39 L105.3 228.41 L105.78 229.03 L106.3 229.27 L106.88 229.45 L107.49 229.22 L108.1 229.27 L108.72 228.95 L109.34 228.53 L109.9 228.23 L110.37 229.01 L110.79 229.96 L111.2 231.09 L111.6 232.75 L112 234.53 L112.5 236.31 L113.18 238.73 L113.96 241.16 L114.7 243.57 L115.3 244.83 L115.85 245.27 L116.5 245.7 L117.37 245.57 L118.34 245.1 L119.2 244.54 L119.8 244.98 L120.3 245.21 L120.9 245.68 L121.7 246.06 L122.6 246.76 L123.6 247.44 L124.66 248.01 L125.8 248.7 L127.1 248.86 L128.14 249.17 L129.34 249.41 L132 249.68 L136.59 249.77 L142.63 250.36 L150 250.67 L158.93 250.62 L169.19 251.04 L180 251.16 L192.59 251.43 L205.74 251.85 L215 252.21" fill="none" stroke="#7fb9e6" stroke-width="1.05" stroke-linejoin="round" />
<path d="M21.5 306.04 L26.43 305.53 L33.41 304.73 L40 304.28 L45.41 303.74 L50.43 303.43 L55 303.05 L59.24 302.58 L63.04 302.69 L66 301.95 L67.72 301.8 L68.61 301.34 L69.5 300.86 L70.7 299.97 L71.9 299.45 L73 298.24 L73.96 296.97 L74.83 296.06 L75.6 294.6 L76.26 293.85 L76.84 292.78 L77.4 291.34 L77.97 288.98 L78.53 285.78 L79.1 282.46 L79.7 279.69 L80.3 276.64 L80.9 273.73 L81.49 271 L82.06 268.8 L82.6 266.83 L83.11 265.64 L83.59 264.74 L84 264.15 L84.31 264.17 L84.55 265.08 L84.8 265.65 L85.09 267.18 L85.4 269.27 L85.7 271.16 L85.99 272.78 L86.27 274.89 L86.6 276.6 L87 277.45 L87.45 278.3 L87.9 278.86 L88.33 279.36 L88.77 280.02 L89.2 280.24 L89.61 281.5 L90.03 282.64 L90.5 283.45 L91.07 283.85 L91.69 284.57 L92.3 284.7 L92.87 285.06 L93.43 285.41 L94 286.24 L94.6 286.57 L95.2 287.13 L95.8 288.19 L96.34 289.41 L96.86 291.36 L97.5 292.97 L98.3 294.59 L99.2 296.54 L100.2 298.06 L101.28 298.86 L102.44 300.11 L103.7 300.79 L105.04 301.69 L106.46 302 L108 302.07 L109.69 302.43 L111.5 302.68 L113.3 303.34 L114.99 303.18 L116.68 303.47 L118.6 303.49 L120.3 303.61 L122.23 303.57 L126 303.62 L132.36 303.27 L140.57 303.55 L150 303.3 L161.04 303.45 L173.3 303.42 L185 303.5 L196.48 303.78 L207.41 303.94 L215 304.03" fill="none" stroke="#ea5b3e" stroke-width="1.05" stroke-linejoin="round" />
<path d="M21.5 306.52 L26.43 305.93 L33.41 304.92 L40 304.38 L45.41 304 L50.43 303.84 L55 303.49 L59.17 303.09 L62.9 302.66 L66 302.84 L68.26 302.37 L69.88 302.11 L71.3 301.9 L72.63 301.73 L73.77 301.58 L74.8 301.61 L75.77 301.03 L76.63 300.61 L77.4 300.18 L78.03 299.1 L78.56 298.16 L79.1 296.67 L79.71 293.3 L80.33 289.93 L80.9 286.1 L81.37 282.37 L81.79 278.7 L82.2 275.64 L82.65 272.63 L83.1 269.47 L83.5 267.59 L83.8 266.64 L84.06 266.35 L84.4 266.22 L84.89 266.12 L85.47 266.52 L86.1 266.96 L86.83 267.06 L87.61 267.75 L88.3 268.66 L88.78 269.11 L89.16 269.53 L89.6 270.06 L90.16 271.86 L90.78 273.81 L91.4 275.75 L92 277.6 L92.61 279.37 L93.2 281.77 L93.79 283.48 L94.37 285.63 L94.9 287.13 L95.36 287.48 L95.78 287.08 L96.2 286.8 L96.63 286.38 L97.07 285.01 L97.5 284.76 L97.91 284.95 L98.33 285.6 L98.8 286.96 L99.35 288.28 L99.95 290.26 L100.6 292.14 L101.26 293.32 L101.96 294.45 L102.8 295.74 L103.87 296.77 L105.09 297.69 L106.3 298.12 L107.4 299.05 L108.51 299.73 L109.8 300.55 L111.4 301.14 L113.2 301.95 L115 302.14 L116.74 302.27 L118.5 302.76 L120.3 302.63 L121.49 302.99 L122.73 303.02 L126 303.31 L132.24 303.19 L140.51 303.28 L150 303.18 L161.04 303.44 L173.3 303.42 L185 303.83 L196.48 303.92 L207.41 303.95 L215 304.17" fill="none" stroke="#7fb06a" stroke-width="1.05" stroke-linejoin="round" />
<rect x="21.2" y="188.8" width="193.9" height="128.7" fill="none" stroke="#222" stroke-width="1.1" />
<line x1="21.2" y1="317.5" x2="21.2" y2="320" stroke="#222" stroke-width="0.8" />
<line x1="33.32" y1="317.5" x2="33.32" y2="319" stroke="#222" stroke-width="0.8" />
<line x1="45.44" y1="317.5" x2="45.44" y2="320" stroke="#222" stroke-width="0.8" />
<line x1="57.56" y1="317.5" x2="57.56" y2="319" stroke="#222" stroke-width="0.8" />
<line x1="69.68" y1="317.5" x2="69.68" y2="320" stroke="#222" stroke-width="0.8" />
<line x1="81.8" y1="317.5" x2="81.8" y2="319" stroke="#222" stroke-width="0.8" />
<line x1="93.92" y1="317.5" x2="93.92" y2="320" stroke="#222" stroke-width="0.8" />
<line x1="106.04" y1="317.5" x2="106.04" y2="319" stroke="#222" stroke-width="0.8" />
<line x1="118.16" y1="317.5" x2="118.16" y2="320" stroke="#222" stroke-width="0.8" />
<line x1="130.28" y1="317.5" x2="130.28" y2="319" stroke="#222" stroke-width="0.8" />
<line x1="142.4" y1="317.5" x2="142.4" y2="320" stroke="#222" stroke-width="0.8" />
<line x1="154.52" y1="317.5" x2="154.52" y2="319" stroke="#222" stroke-width="0.8" />
<line x1="166.64" y1="317.5" x2="166.64" y2="320" stroke="#222" stroke-width="0.8" />
<line x1="178.76" y1="317.5" x2="178.76" y2="319" stroke="#222" stroke-width="0.8" />
<line x1="190.88" y1="317.5" x2="190.88" y2="320" stroke="#222" stroke-width="0.8" />
<line x1="203" y1="317.5" x2="203" y2="319" stroke="#222" stroke-width="0.8" />
<line x1="215.12" y1="317.5" x2="215.12" y2="320" stroke="#222" stroke-width="0.8" />
<text x="21.2" y="328.9" font-size="7.8" text-anchor="middle" font-weight="normal" fill="#000" stroke="#000" stroke-width="0.191" >0.8</text>
<text x="45.44" y="328.9" font-size="7.8" text-anchor="middle" font-weight="normal" fill="#000" stroke="#000" stroke-width="0.191" >0.9</text>
<text x="69.68" y="328.9" font-size="7.8" text-anchor="middle" font-weight="normal" fill="#000" stroke="#000" stroke-width="0.191" >1.0</text>
<text x="93.92" y="328.9" font-size="7.8" text-anchor="middle" font-weight="normal" fill="#000" stroke="#000" stroke-width="0.191" >1.1</text>
<text x="118.16" y="328.9" font-size="7.8" text-anchor="middle" font-weight="normal" fill="#000" stroke="#000" stroke-width="0.191" >1.2</text>
<text x="142.4" y="328.9" font-size="7.8" text-anchor="middle" font-weight="normal" fill="#000" stroke="#000" stroke-width="0.191" >1.3</text>
<text x="166.64" y="328.9" font-size="7.8" text-anchor="middle" font-weight="normal" fill="#000" stroke="#000" stroke-width="0.191" >1.4</text>
<text x="190.88" y="328.9" font-size="7.8" text-anchor="middle" font-weight="normal" fill="#000" stroke="#000" stroke-width="0.191" >1.5</text>
<text x="215.12" y="328.9" font-size="7.8" text-anchor="middle" font-weight="normal" fill="#000" stroke="#000" stroke-width="0.191" >1.6</text>
<text x="116" y="343" font-size="7.8" text-anchor="middle" font-weight="normal" fill="#000" stroke="#000" stroke-width="0.191" >q (&#197;<tspan dy="-3" font-size="5">-1</tspan><tspan dy="3">)</tspan></text>
<text x="11" y="259.6" font-size="8.54" text-anchor="middle" font-weight="normal" fill="#000" stroke="#000" stroke-width="0.209" transform="rotate(-90 11 259.6)">Intensity (arb. units)</text>
<text x="23.9" y="205.2" font-size="7.35" text-anchor="start" font-weight="normal" fill="#000" stroke="#000" stroke-width="0.180" >Terpolymer/PDs-G</text>
<text x="24.7" y="272.9" font-size="7.35" text-anchor="start" font-weight="normal" fill="#000" stroke="#000" stroke-width="0.180" >Terpolymer-G</text>
<line x1="130.4" y1="232.2" x2="145.2" y2="232.2" stroke="#f0bf5a" stroke-width="0.9" />
<text x="147.9" y="234.8" font-size="7.1" text-anchor="start" font-weight="normal" fill="#000" stroke="#000" stroke-width="0.174" >The upper surface</text>
<line x1="130.4" y1="241.5" x2="145.2" y2="241.5" stroke="#7fb9e6" stroke-width="0.9" />
<text x="147.9" y="244.1" font-size="7.1" text-anchor="start" font-weight="normal" fill="#000" stroke="#000" stroke-width="0.174" >The lower surface</text>
<line x1="129.6" y1="287.2" x2="144.1" y2="287.2" stroke="#ea5b3e" stroke-width="0.9" />
<text x="146.8" y="289.8" font-size="7.1" text-anchor="start" font-weight="normal" fill="#000" stroke="#000" stroke-width="0.174" >The upper surface</text>
<line x1="129.6" y1="296.5" x2="144.1" y2="296.5" stroke="#7fb06a" stroke-width="0.9" />
<text x="146.8" y="299.1" font-size="7.1" text-anchor="start" font-weight="normal" fill="#000" stroke="#000" stroke-width="0.174" >The lower surface</text>
<g clip-path="url(#clipc)"><rect x="296" y="13" width="140" height="137" fill="#7a1a2a"/>
<g transform="rotate(57 366 81.5)"><rect x="256" y="-30" width="220" height="223" filter="url(#hmc)"/></g></g>
<g clip-path="url(#clipd)"><rect x="296" y="189" width="140" height="137" fill="#8a1a22"/>
<g transform="rotate(-40 366 257.5)"><rect x="256" y="146" width="220" height="223" filter="url(#hmd)"/></g></g>
<rect x="439.5" y="14.2" width="5" height="136.3" fill="url(#cbar)" stroke="none" stroke-width="1" />
<rect x="439.5" y="190.5" width="5" height="135.3" fill="url(#cbar)" stroke="none" stroke-width="1" />
<text x="448.8" y="23.1" font-size="8.6" text-anchor="start" font-weight="normal" fill="#000" stroke="#000" stroke-width="0.210" >15.0</text>
<text x="448.8" y="58.5" font-size="8.6" text-anchor="start" font-weight="normal" fill="#000" stroke="#000" stroke-width="0.210" >7.5</text>
<text x="448.8" y="88.9" font-size="8.6" text-anchor="start" font-weight="normal" fill="#000" stroke="#000" stroke-width="0.210" >0</text>
<text x="446.9" y="117.7" font-size="8.6" text-anchor="start" font-weight="normal" fill="#000" stroke="#000" stroke-width="0.210" >-7.5</text>
<text x="446.9" y="150.7" font-size="8.6" text-anchor="start" font-weight="normal" fill="#000" stroke="#000" stroke-width="0.210" >-15.0</text>
<text x="447.2" y="159" font-size="8.6" text-anchor="start" font-weight="normal" fill="#000" stroke="#000" stroke-width="0.210" >(a.u.)</text>
<text x="448.8" y="199.4" font-size="8.6" text-anchor="start" font-weight="normal" fill="#000" stroke="#000" stroke-width="0.210" >15.0</text>
<text x="448.8" y="234.1" font-size="8.6" text-anchor="start" font-weight="normal" fill="#000" stroke="#000" stroke-width="0.210" >7.5</text>
<text x="448.8" y="265.3" font-size="8.6" text-anchor="start" font-weight="normal" fill="#000" stroke="#000" stroke-width="0.210" >0</text>
<text x="446.9" y="294.5" font-size="8.6" text-anchor="start" font-weight="normal" fill="#000" stroke="#000" stroke-width="0.210" >-7.5</text>
<text x="446.9" y="326.6" font-size="8.6" text-anchor="start" font-weight="normal" fill="#000" stroke="#000" stroke-width="0.210" >-15.0</text>
<text x="447.2" y="335" font-size="8.6" text-anchor="start" font-weight="normal" fill="#000" stroke="#000" stroke-width="0.210" >(a.u.)</text>
<text x="345.8" y="24" font-size="10.3" text-anchor="start" font-weight="normal" fill="#f4eeee" stroke="#f4eeee" stroke-width="0.252" textLength="85.4" lengthAdjust="spacingAndGlyphs">Terpolymer/PDs-G</text>
<text x="345.8" y="36.6" font-size="10.3" text-anchor="start" font-weight="normal" fill="#f4eeee" stroke="#f4eeee" stroke-width="0.252" textLength="57.7" lengthAdjust="spacingAndGlyphs">@1286 cm-1</text>
<text x="353.4" y="200.3" font-size="10.3" text-anchor="start" font-weight="normal" fill="#f4eeee" stroke="#f4eeee" stroke-width="0.252" textLength="63.5" lengthAdjust="spacingAndGlyphs">Terpolymer-G</text>
<text x="353.4" y="213.4" font-size="10.3" text-anchor="start" font-weight="normal" fill="#f4eeee" stroke="#f4eeee" stroke-width="0.252" textLength="57.9" lengthAdjust="spacingAndGlyphs">@1286 cm-1</text>
<path d="M321.4 24.5 H328.6 M325 20.8 V28.2" stroke="#f8f4f4" stroke-width="2.1"/>
<text x="329.4" y="24" font-size="9.2" text-anchor="start" font-weight="bold" fill="#f8f4f4" >1</text>
<path d="M321.9 50.8 H329.1 M325.5 47.1 V54.5" stroke="#f8f4f4" stroke-width="2.1"/>
<text x="329.9" y="50.3" font-size="9.2" text-anchor="start" font-weight="bold" fill="#f8f4f4" >2</text>
<path d="M321.7 78.9 H328.9 M325.3 75.2 V82.6" stroke="#f8f4f4" stroke-width="2.1"/>
<text x="329.7" y="78.4" font-size="9.2" text-anchor="start" font-weight="bold" fill="#f8f4f4" >3</text>
<path d="M321.9 111 H329.1 M325.5 107.3 V114.7" stroke="#f8f4f4" stroke-width="2.1"/>
<text x="329.9" y="110.5" font-size="9.2" text-anchor="start" font-weight="bold" fill="#f8f4f4" >4</text>
<path d="M322.1 136.6 H329.3 M325.7 132.9 V140.3" stroke="#f8f4f4" stroke-width="2.1"/>
<text x="330.1" y="136.1" font-size="9.2" text-anchor="start" font-weight="bold" fill="#f8f4f4" >5</text>
<path d="M322.8 205.2 H330 M326.4 201.5 V208.9" stroke="#f8f4f4" stroke-width="2.1"/>
<text x="330.8" y="204.7" font-size="9.2" text-anchor="start" font-weight="bold" fill="#f8f4f4" >6</text>
<path d="M322.6 231.5 H329.8 M326.2 227.8 V235.2" stroke="#f8f4f4" stroke-width="2.1"/>
<text x="330.6" y="231" font-size="9.2" text-anchor="start" font-weight="bold" fill="#f8f4f4" >7</text>
<path d="M322.6 260.4 H329.8 M326.2 256.7 V264.1" stroke="#f8f4f4" stroke-width="2.1"/>
<text x="330.6" y="259.9" font-size="9.2" text-anchor="start" font-weight="bold" fill="#f8f4f4" >8</text>
<path d="M322.6 290 H329.8 M326.2 286.3 V293.7" stroke="#f8f4f4" stroke-width="2.1"/>
<text x="330.6" y="289.5" font-size="9.2" text-anchor="start" font-weight="bold" fill="#f8f4f4" >9</text>
<path d="M322.6 318.2 H329.8 M326.2 314.5 V321.9" stroke="#f8f4f4" stroke-width="2.1"/>
<text x="330.6" y="317.7" font-size="9.2" text-anchor="start" font-weight="bold" fill="#f8f4f4" >10</text>
<text x="279.9" y="40.6" font-size="10.25" text-anchor="middle" font-weight="bold" fill="#000" >Down</text>
<line x1="282.4" y1="43.5" x2="282.4" y2="122" stroke="#888" stroke-width="2.2" />
<path d="M279 121 L285.8 121 L282.4 128 Z" fill="#888"/>
<text x="280" y="140.2" font-size="10.25" text-anchor="middle" font-weight="bold" fill="#000" >Up</text>
<text x="279.9" y="216.1" font-size="10.25" text-anchor="middle" font-weight="bold" fill="#000" >Down</text>
<line x1="282.4" y1="219" x2="282.4" y2="297.5" stroke="#888" stroke-width="2.2" />
<path d="M279 296.5 L285.8 296.5 L282.4 303.5 Z" fill="#888"/>
<text x="280" y="315.7" font-size="10.25" text-anchor="middle" font-weight="bold" fill="#000" >Up</text>
<path d="M297 151.8 V154.8 H436.6 V151.8" fill="none" stroke="#333" stroke-width="0.9"/>
<path d="M297 327.2 V330.2 H436.6 V327.2" fill="none" stroke="#333" stroke-width="0.9"/>
<text x="369.2" y="165.2" font-size="8.4" text-anchor="middle" font-weight="normal" fill="#000" stroke="#000" stroke-width="0.205" >10 &#181;m</text>
<text x="369.2" y="340.5" font-size="8.4" text-anchor="middle" font-weight="normal" fill="#000" stroke="#000" stroke-width="0.205" >10 &#181;m</text>
<rect x="521.2" y="9" width="10.2" height="133.8" fill="#c5e3f8" stroke="none" stroke-width="1" />
<rect x="521.2" y="194" width="10.2" height="132" fill="#c5e3f8" stroke="none" stroke-width="1" />
<path d="M495.4 80.07 L496.66 79.48 L498.46 78.8 L500.3 77.98 L501.93 78.18 L503.6 78.75 L505.5 78.81 L507.89 79.02 L510.52 78.88 L512.8 78.18 L514.43 76.05 L515.71 73.88 L517 71.45 L518.44 69.82 L519.88 67.69 L521.2 65.13 L522.31 63.23 L523.3 60.65 L524.3 58.19 L525.36 56.24 L526.44 54.33 L527.5 53.21 L528.54 53.62 L529.57 54.04 L530.6 54.11 L531.59 52.78 L532.59 50.57 L533.7 48.68 L535.06 46.58 L536.53 44.65 L537.9 42.41 L539.04 40.87 L540.08 39.29 L541.1 37.3 L542.14 33.87 L543.17 29.87 L544.2 27 L545.23 24.62 L546.26 22.74 L547.3 21.62 L548.32 21.39 L549.36 22.08 L550.5 22.87 L551.87 23.21 L553.34 24.1 L554.7 24.54 L555.83 25.78 L556.84 26.66 L557.8 28.07 L558.74 29.04 L559.63 29.49 L560.5 30.13 L561.32 30.4 L562.12 29.55 L563 29.09 L564.02 27.76 L565.11 26.42 L566.2 25.78 L567.2 25.33 L568.19 24.67 L569.3 23.95 L570.66 23.01 L572.14 22.06 L573.5 20.65 L574.61 18.99 L575.6 17.85 L576.6 17.06 L577.66 17.22 L578.74 18.37 L579.8 18.61 L580.88 19.01 L581.94 19.01 L582.9 19.21 L583.67 20.33 L584.33 21.05 L585 22.69 L585.73 23.9 L586.48 25.86 L587.2 27.83 L587.84 30.5 L588.46 33.87 L589.2 36.38 L590.15 37.88 L591.22 39.7 L592.3 41.23 L593.36 44.31 L594.44 48.03 L595.5 50.89 L596.54 52.81 L597.57 55.13 L598.6 55.83 L599.59 55.95 L600.59 55.73 L601.7 55.5 L603.06 56.85 L604.53 58.64 L605.9 59.95 L607.06 60.45 L608.11 59.82 L609.1 59.26 L610.01 57.69 L610.86 55.95 L611.8 55.28 L612.92 55.46 L614.13 56.79 L615.3 58.32 L616.35 59.27 L617.37 60.68 L618.5 62.15 L619.83 62.16 L621.27 61.48 L622.7 61.71 L624.03 63.58 L625.35 65.87 L626.8 67.32 L628.44 68.98 L630.21 69.88 L632.1 70.76 L634.13 71.9 L636.27 73.08 L638.4 74.62 L640.47 77.16 L642.53 78.92 L644.6 81.22 L646.69 82.67 L648.8 84.55 L650.9 85.76 L653 86.69 L655.1 87.53 L657.2 88.63 L659.07 88.9 L660.94 89.53 L663.5 90.14 L667.67 90.58 L672.53 90.58 L676 90.47" fill="none" stroke="#d93a35" stroke-width="1.15" stroke-linejoin="round" />
<path d="M495.4 93.95 L496.62 93.06 L498.39 92.31 L500.3 92.06 L502.27 92.24 L504.38 92.32 L506.5 92.61 L508.67 92.9 L510.85 93.11 L512.8 92.38 L514.32 91.31 L515.6 89.86 L517 87.69 L518.73 84.56 L520.58 81.17 L522.2 78.05 L523.42 75.3 L524.41 73.1 L525.4 71.41 L526.46 70.8 L527.5 70 L528.5 69.88 L529.4 69.89 L530.25 71.24 L531.2 71.09 L532.31 69.31 L533.52 66.1 L534.8 63.6 L536.16 60.65 L537.58 58.6 L539 56.14 L540.4 53.18 L541.81 49.8 L543.2 46.72 L544.57 43.85 L545.93 41.24 L547.3 39.21 L548.69 39.28 L550.1 40.28 L551.5 41.22 L552.9 41.68 L554.3 42.72 L555.7 43.72 L557.14 44.85 L558.58 46.32 L559.9 47.13 L560.97 47.46 L561.93 47.21 L563 46.35 L564.32 45.81 L565.76 44.88 L567.2 43.73 L568.56 42.82 L569.93 41.87 L571.4 41.14 L573.1 39.54 L574.9 37.76 L576.6 37 L578.07 36.69 L579.44 37.93 L580.8 38.62 L582.2 40.09 L583.6 41.43 L585 43.34 L586.4 46.69 L587.8 50.28 L589.2 53.97 L590.6 57.43 L592 60.21 L593.4 63.11 L594.8 66.34 L596.21 69.5 L597.6 71.52 L598.97 72.81 L600.33 73.93 L601.7 74.5 L603.13 75.49 L604.57 76.91 L605.9 77.3 L607.06 77.58 L608.11 76.94 L609.1 76.46 L610.01 75.52 L610.86 74.15 L611.8 73.43 L612.88 73.77 L614.05 75.26 L615.3 76.39 L616.61 77.15 L617.99 78.14 L619.5 79.2 L621.15 80.15 L622.93 81.09 L624.8 82.47 L626.8 83.73 L628.89 85.54 L631 87.37 L633.06 88.41 L635.12 89.29 L637.3 90.55 L639.7 92.28 L642.2 94.03 L644.6 95.69 L646.74 97.61 L648.76 99.24 L650.9 100.37 L653.26 101.61 L655.72 102.96 L658.2 104.42 L660.55 104.17 L662.91 104.39 L665.6 104.24 L669.23 104.38 L673.19 105.08 L676 104.91" fill="none" stroke="#f09a5c" stroke-width="1.15" stroke-linejoin="round" />
<path d="M495.4 103.77 L497.28 104.13 L499.94 103.86 L502.4 104.8 L504.3 104.78 L506.01 105.31 L507.6 105.39 L509.07 105.41 L510.44 104.29 L511.8 103.22 L513.2 101.78 L514.61 100.16 L516 98.21 L517.37 95.36 L518.73 91.99 L520.1 89.48 L521.49 86.71 L522.9 84.24 L524.3 82.77 L525.7 81.74 L527.1 80.44 L528.5 79.9 L529.9 79.67 L531.3 79.87 L532.7 79.02 L534.1 77.38 L535.5 75.22 L536.9 72.6 L538.3 70.83 L539.71 68.81 L541.1 66.13 L542.51 65.05 L543.9 63.2 L545.2 61.57 L546.26 61.52 L547.22 61.89 L548.4 62.67 L549.99 63.02 L551.79 64.32 L553.6 65.74 L555.33 66.75 L557.06 67.98 L558.8 68.57 L560.6 69.85 L562.41 70.48 L564.1 71.3 L565.59 70.66 L566.95 69.1 L568.3 67.7 L569.71 65.78 L571.1 64.87 L572.4 63.73 L573.5 62.93 L574.49 62.04 L575.6 62.16 L576.93 62.13 L578.37 63.44 L579.8 64.32 L581.13 64.67 L582.45 65.39 L583.9 67.45 L585.62 70.57 L587.47 74.56 L589.2 77.99 L590.68 80.91 L592.04 84.82 L593.4 87.01 L594.8 90.16 L596.21 91.73 L597.6 93.55 L599.01 95.01 L600.4 95.01 L601.7 95.48 L602.84 96.34 L603.87 96.94 L604.9 97.11 L605.94 96.34 L606.96 95.6 L608 94.69 L609.03 95.49 L610.06 95.57 L611.2 96.55 L612.5 97.56 L613.89 98.09 L615.3 99.11 L616.69 99.55 L618.1 99.85 L619.5 100.31 L620.94 99.73 L622.38 98.94 L623.7 98.79 L624.81 99.79 L625.8 100.77 L626.8 100.74 L627.86 100.98 L628.94 100.41 L630 100.02 L631 101.59 L631.99 103.46 L633.1 105.23 L634.42 105.09 L635.86 104.32 L637.3 103.27 L638.7 104.3 L640.1 104.4 L641.5 105.11 L642.9 106.9 L644.3 108.42 L645.7 109.39 L647.1 109.28 L648.5 107.73 L649.9 107.33 L651.3 106.79 L652.71 107.01 L654.1 107.08 L655.47 107.29 L656.83 108.64 L658.2 109.06 L659.59 109.15 L661 108.88 L662.4 108.66 L663.8 108.69 L665.2 109.26 L666.6 109.72 L668.04 110.43 L669.48 110.88 L670.8 110.07 L671.95 110.1 L672.98 108.58 L673.9 108.02 L674.75 107.6 L675.49 107.69 L676 107.14" fill="none" stroke="#f0c468" stroke-width="1.15" stroke-linejoin="round" />
<path d="M495.4 115.51 L497.24 115.51 L499.87 114.97 L502.4 115.14 L504.56 114.69 L506.63 114.86 L508.6 114.45 L510.47 113.96 L512.25 113.51 L513.9 112.46 L515.39 110.93 L516.75 109.1 L518.1 107.32 L519.47 105.23 L520.83 103.39 L522.2 102.08 L523.59 101.01 L525 100.19 L526.4 99.71 L527.8 99.03 L529.2 98.73 L530.6 97.64 L532 96.8 L533.4 95.43 L534.8 93.94 L536.2 91.87 L537.6 90.01 L539 88.65 L540.4 86.74 L541.81 85.85 L543.2 84.53 L544.53 82.77 L545.85 81.61 L547.3 81.24 L548.98 81.13 L550.8 81.75 L552.6 83 L554.34 83.6 L556.07 84.77 L557.8 85.08 L559.57 85.64 L561.34 85.97 L563 85.41 L564.47 84.89 L565.84 84.22 L567.2 83.45 L568.6 82.75 L570 81.55 L571.4 81.1 L572.8 80.48 L574.2 79.55 L575.6 79.11 L577 78.54 L578.41 78.43 L579.8 78.76 L581.13 79.32 L582.45 80.59 L583.9 82.21 L585.62 85.03 L587.47 88.25 L589.2 91.41 L590.68 93.85 L592.04 96.31 L593.4 98.19 L594.8 99.64 L596.21 100.34 L597.6 101.34 L598.97 102.73 L600.33 103.13 L601.7 103.86 L603.09 104.07 L604.5 104.5 L605.9 104.61 L607.3 104.16 L608.7 103.59 L610.1 102.81 L611.5 103.18 L612.9 103.45 L614.3 103.51 L615.66 104.51 L617.03 105.78 L618.5 106.64 L620.12 107.42 L621.85 108.28 L623.7 109.41 L625.72 110.15 L627.86 111.76 L630 112.68 L632.06 113.36 L634.13 114.07 L636.3 114.68 L638.7 115.53 L641.2 116.76 L643.6 117.8 L645.74 119.19 L647.76 120.17 L649.9 120.75 L652.18 121.8 L654.57 122.17 L657.2 122.57 L660.18 122.88 L663.39 122.82 L666.6 123.24 L670.08 123.27 L673.56 123.14 L676 123.16" fill="none" stroke="#86b474" stroke-width="1.15" stroke-linejoin="round" />
<path d="M495.4 125.16 L497.24 125.08 L499.87 125.47 L502.4 125.24 L504.56 125.53 L506.63 125.69 L508.6 125.41 L510.47 125.54 L512.25 125.53 L513.9 125.07 L515.39 124.06 L516.75 123.44 L518.1 122 L519.47 120.15 L520.83 118.46 L522.2 116.74 L523.59 115.44 L525 114.29 L526.4 113.8 L527.8 113.03 L529.2 112.72 L530.6 112.26 L532 111.64 L533.4 110.17 L534.8 109.47 L536.2 108.25 L537.6 106.51 L539 105.14 L540.4 103.49 L541.81 102.14 L543.2 100.93 L544.53 99.51 L545.85 98.47 L547.3 98.04 L548.98 97.4 L550.8 97.25 L552.6 97.68 L554.34 98 L556.07 99.09 L557.8 99.58 L559.57 100.16 L561.34 100.07 L563 100.46 L564.47 100.22 L565.84 99.19 L567.2 99.16 L568.6 98.32 L570 98.17 L571.4 97.6 L572.8 97.22 L574.2 96.66 L575.6 95.94 L577 96.45 L578.41 96.36 L579.8 96.82 L581.13 97.29 L582.45 97.75 L583.9 98.77 L585.62 100.82 L587.47 103.06 L589.2 105.07 L590.68 107.22 L592.04 108.73 L593.4 110.11 L594.8 111.5 L596.21 112.41 L597.6 113.39 L598.97 114.56 L600.33 115.03 L601.7 115.94 L603.09 116.45 L604.5 116.55 L605.9 117.39 L607.3 117.26 L608.7 116.38 L610.1 116.54 L611.46 115.91 L612.83 115.61 L614.3 115.98 L615.96 116.31 L617.72 117.64 L619.5 119.06 L621.26 120 L623.04 120.92 L624.8 122.19 L626.5 122.86 L628.19 123.4 L630 123.77 L631.98 124.73 L634.09 125.29 L636.3 125.92 L638.7 126.86 L641.2 128.29 L643.6 129.07 L645.74 130.05 L647.76 130.84 L649.9 131.37 L652.18 132 L654.57 132.93 L657.2 133.45 L660.18 134.1 L663.39 134.26 L666.6 134.8 L670.08 135.02 L673.56 135.1 L676 134.94" fill="none" stroke="#4f7fc2" stroke-width="1.15" stroke-linejoin="round" />
<path d="M495.4 266.97 L497.28 267.26 L499.94 266.94 L502.4 266.57 L504.3 266.13 L506.01 265.77 L507.6 265.81 L509.11 265.78 L510.52 265.93 L511.8 265.78 L512.91 265.32 L513.9 264.15 L514.9 262.85 L515.96 261.31 L517.04 258.79 L518.1 255.93 L519.14 252.01 L520.17 248.24 L521.2 245.06 L522.23 242.63 L523.26 240.68 L524.3 238.66 L525.33 237.62 L526.36 236.38 L527.5 235.55 L528.8 235.25 L530.19 234.62 L531.6 233.78 L533.03 232.24 L534.47 230.57 L535.8 228.33 L536.9 225.92 L537.9 223.32 L539 220.3 L540.33 216.34 L541.77 212.63 L543.2 209.79 L544.65 207.06 L546.09 205.01 L547.3 203.23 L548.07 202.74 L548.62 202.72 L549.4 203.59 L550.64 204.34 L552.12 205.98 L553.6 207.79 L555.04 209.22 L556.48 211.31 L557.8 212.95 L558.91 213.87 L559.9 213.97 L560.9 214.12 L561.96 214.1 L563.04 214.51 L564.1 213.55 L565.1 212.39 L566.09 211.1 L567.2 209.59 L568.56 208.6 L570.04 207.37 L571.4 206.67 L572.51 205.06 L573.5 203.96 L574.5 203.5 L575.56 203.17 L576.64 203.79 L577.7 204.53 L578.74 204.65 L579.77 204.54 L580.8 205.29 L581.85 207.47 L582.9 210.43 L583.9 212.72 L584.84 214.5 L585.73 216.54 L586.5 218.04 L587.05 219.49 L587.49 220.63 L588.1 222.45 L589.05 225.28 L590.18 229.31 L591.3 232.58 L592.32 235.55 L593.33 238.32 L594.4 241.26 L595.56 243.97 L596.77 246.21 L598 248.32 L599.21 249.42 L600.43 249.92 L601.7 250.44 L603.06 251.22 L604.48 251.88 L605.9 252.54 L607.3 252.49 L608.7 251.82 L610.1 251.7 L611.5 251.6 L612.9 251.66 L614.3 252.66 L615.66 253.93 L617.03 255.12 L618.5 256.41 L620.16 257.74 L621.93 258.67 L623.7 259.94 L625.47 262.18 L627.24 264.32 L628.9 266.28 L630.33 266.8 L631.66 267.6 L633.1 268.37 L634.83 268.9 L636.68 269.97 L638.4 271.54 L639.81 272.97 L641.09 273.92 L642.5 275.68 L644.18 276.79 L646 278.55 L647.8 279.79 L649.58 280.76 L651.34 281.86 L653 283.06 L654.44 283.47 L655.76 283.93 L657.2 283.84 L658.82 283.65 L660.55 283.7 L662.4 283.4 L664.38 283.62 L666.49 284.19 L668.7 284.73 L671.33 284.94 L674.07 285.18 L676 284.95" fill="none" stroke="#d93a35" stroke-width="1.15" stroke-linejoin="round" />
<path d="M495.4 282.6 L496.66 281.76 L498.46 280.82 L500.3 279.88 L502.01 279.24 L503.76 278.74 L505.5 278.47 L507.27 278.44 L509.04 278.75 L510.7 278.83 L512.17 278.32 L513.54 277.12 L514.9 275.45 L516.3 272.65 L517.7 269.68 L519.1 266.39 L520.5 262.37 L521.9 258.47 L523.3 255.52 L524.7 254.01 L526.11 253.09 L527.5 252.78 L528.87 251.65 L530.23 251.33 L531.6 250.17 L532.99 248.6 L534.4 246.2 L535.8 242.91 L537.2 239.16 L538.6 235.25 L540 231.65 L541.41 228.92 L542.83 225.94 L544.2 224.07 L545.51 222.74 L546.77 221.92 L548 221.64 L549.16 222.29 L550.29 223.14 L551.5 224.13 L552.85 225.74 L554.27 227.72 L555.7 229.3 L557.14 230.86 L558.58 231.52 L559.9 232.23 L560.97 232.61 L561.93 232.25 L563 231.46 L564.32 230.4 L565.76 228.48 L567.2 226.31 L568.6 224.91 L570 223.76 L571.4 222.19 L572.84 220.86 L574.28 219.7 L575.6 219.37 L576.71 218.55 L577.71 217.75 L578.7 217.62 L579.73 217.75 L580.76 218.08 L581.8 219.39 L582.82 220.38 L583.86 221.73 L585 224.01 L586.33 227.87 L587.76 232.2 L589.2 236.98 L590.6 241.61 L592 246.35 L593.4 250.29 L594.8 253.65 L596.21 256.5 L597.6 258.66 L598.97 260.55 L600.33 261.29 L601.7 262.08 L603.09 262.87 L604.5 262.76 L605.9 263.02 L607.3 262.45 L608.7 262.27 L610.1 261.7 L611.5 262.96 L612.9 264.2 L614.3 265.29 L615.66 265.62 L617.03 266.4 L618.5 267.33 L620.16 267.54 L621.93 268.36 L623.7 269.28 L625.43 271.15 L627.16 272.85 L628.9 274.71 L630.66 275.6 L632.44 276.89 L634.2 277.65 L635.9 278.87 L637.59 279.29 L639.4 281 L641.42 282.61 L643.56 285.14 L645.7 287.12 L647.8 288.24 L649.91 289.63 L652 290.09 L654.07 290.6 L656.13 290.76 L658.2 291.18 L660.1 291.58 L662.01 292.02 L664.5 292.22 L668.37 293.11 L672.83 293.58 L676 294.34" fill="none" stroke="#f09a5c" stroke-width="1.15" stroke-linejoin="round" />
<path d="M495.4 289.08 L496.66 289.26 L498.46 289.02 L500.3 288.79 L502.01 288.36 L503.76 288.58 L505.5 288.83 L507.27 288.74 L509.04 289.18 L510.7 289.07 L512.14 288.52 L513.46 288.55 L514.9 287.18 L516.6 284.48 L518.4 281.7 L520.1 278.57 L521.57 276.01 L522.94 273.59 L524.3 271.18 L525.7 269.27 L527.1 267.61 L528.5 266.2 L529.9 264.63 L531.3 263.39 L532.7 262.04 L534.1 259.42 L535.5 256.95 L536.9 253.64 L538.3 250.24 L539.71 246.27 L541.1 243.3 L542.47 240.23 L543.83 238.09 L545.2 236.56 L546.59 236.19 L548 236.14 L549.4 236.21 L550.8 237.26 L552.2 238.89 L553.6 240.06 L555 240.88 L556.4 242.02 L557.8 242.89 L559.2 243.71 L560.6 244.56 L562 244.54 L563.4 244.47 L564.81 243.1 L566.2 242.11 L567.57 241.31 L568.93 240.53 L570.3 239.79 L571.69 238.81 L573.1 238.14 L574.5 237.85 L575.9 237.66 L577.3 238.24 L578.7 239.02 L580.18 240.16 L581.66 241.26 L582.9 242.2 L583.68 242.44 L584.22 242.17 L585 243.4 L586.24 246.19 L587.72 250.13 L589.2 253.36 L590.6 256.57 L592 259.51 L593.4 262.17 L594.8 264.2 L596.21 265.73 L597.6 267 L598.97 268.95 L600.33 270.52 L601.7 271.43 L603.09 271.96 L604.5 272.33 L605.9 272.19 L607.3 272.27 L608.7 271.95 L610.1 271.41 L611.5 271.63 L612.9 272.03 L614.3 272.22 L615.66 273.57 L617.03 274.54 L618.5 275.42 L620.16 276.31 L621.93 277.36 L623.7 278.75 L625.43 280.47 L627.16 282.13 L628.9 284.16 L630.66 285.04 L632.44 286.09 L634.2 286.87 L635.9 288.38 L637.59 288.87 L639.4 290.44 L641.42 291.54 L643.56 293 L645.7 294.44 L647.8 295.7 L649.91 297.53 L652 298.9 L654.07 300.01 L656.13 300.97 L658.2 301.47 L660.1 302.22 L662.01 301.92 L664.5 302.34 L668.37 302.18 L672.83 302.65 L676 303" fill="none" stroke="#f0c468" stroke-width="1.15" stroke-linejoin="round" />
<path d="M495.4 300.41 L496.66 300.35 L498.46 299.67 L500.3 299.32 L502.01 299.19 L503.76 299.51 L505.5 299.46 L507.27 299.56 L509.04 299.74 L510.7 300.1 L512.14 300.03 L513.46 299.44 L514.9 298.56 L516.6 296.68 L518.4 293.56 L520.1 291.02 L521.57 288.63 L522.94 285.89 L524.3 283.83 L525.7 282.27 L527.1 280.71 L528.5 279.71 L529.9 278.56 L531.3 277.87 L532.7 276.5 L534.1 274.9 L535.5 272.4 L536.9 270.4 L538.3 267.35 L539.71 264.86 L541.1 261.96 L542.49 259.6 L543.87 257.57 L545.2 256.17 L546.43 255.26 L547.6 254.83 L548.8 254.75 L550.04 254.95 L551.3 256.01 L552.6 256.9 L553.94 258.24 L555.31 259.52 L556.7 260.86 L558.09 261.95 L559.5 262.93 L560.9 263.02 L562.3 262.67 L563.7 261.8 L565.1 261.14 L566.5 259.74 L567.9 258.41 L569.3 257.84 L570.7 257.27 L572.1 256.71 L573.5 256.36 L574.9 256.43 L576.31 256.34 L577.7 256.76 L579.11 256.69 L580.5 257.03 L581.8 257.67 L582.9 258.04 L583.89 258.45 L585 259.63 L586.33 262.95 L587.76 266.69 L589.2 270.14 L590.6 273.25 L592 276.15 L593.4 278.54 L594.8 280.53 L596.21 282.76 L597.6 284.18 L598.97 284.93 L600.33 285.63 L601.7 285.95 L603.09 287 L604.5 287.46 L605.9 288.25 L607.3 288 L608.7 287.72 L610.1 286.86 L611.5 287.09 L612.9 286.61 L614.3 287.12 L615.66 288.21 L617.03 288.83 L618.5 290.05 L620.16 290.82 L621.93 291.46 L623.7 292.04 L625.43 293.53 L627.16 294.59 L628.9 295.34 L630.66 296.05 L632.44 296.81 L634.2 297.23 L635.9 298.17 L637.59 299.76 L639.4 300.58 L641.42 302.03 L643.56 303.73 L645.7 305.19 L647.8 306.37 L649.91 307.68 L652 308.88 L654.07 309.85 L656.13 310.09 L658.2 309.92 L660.1 310.68 L662.01 310.76 L664.5 311.08 L668.37 310.98 L672.83 311.36 L676 311.4" fill="none" stroke="#86b474" stroke-width="1.15" stroke-linejoin="round" />
<path d="M495.4 308.42 L496.66 308.34 L498.46 307.61 L500.3 307.73 L502.05 307.23 L503.83 307.42 L505.5 308.04 L506.97 308.22 L508.34 309.08 L509.7 309.22 L511.06 308.78 L512.43 307.73 L513.9 307.02 L515.6 305.7 L517.4 303.6 L519.1 301.45 L520.57 299.4 L521.94 297.19 L523.3 295.53 L524.66 293.95 L526.03 293.03 L527.5 292.14 L529.2 291.45 L531 290.57 L532.7 289.02 L534.17 287.36 L535.54 285.32 L536.9 282.85 L538.3 280.2 L539.71 277.7 L541.1 275.76 L542.49 273.58 L543.87 271.56 L545.2 270.38 L546.43 269.1 L547.6 269.08 L548.8 268.56 L550.04 268.88 L551.3 269.52 L552.6 270.03 L553.94 271.33 L555.31 272.26 L556.7 273.25 L558.09 274.47 L559.5 274.82 L560.9 275.37 L562.3 275.61 L563.7 274.91 L565.1 274.37 L566.46 273.79 L567.83 272.67 L569.3 272.24 L571 271.43 L572.8 270.05 L574.5 269.88 L575.97 270.19 L577.34 270.5 L578.7 271.56 L580.18 272.27 L581.66 273.26 L582.9 274.53 L583.68 275.14 L584.22 275.39 L585 276.69 L586.24 279.11 L587.72 281.98 L589.2 285 L590.6 288.09 L592 290.87 L593.4 293.31 L594.8 295.64 L596.21 296.91 L597.6 298.77 L598.97 299.7 L600.33 301.01 L601.7 301.54 L603.09 302.04 L604.5 302.32 L605.9 302.27 L607.3 302.04 L608.7 301.33 L610.1 301.29 L611.5 301.25 L612.9 301.76 L614.3 302.1 L615.66 302.31 L617.03 303.23 L618.5 303.93 L620.16 304.48 L621.93 305.33 L623.7 305.71 L625.43 306.69 L627.16 307.71 L628.9 309 L630.66 309.73 L632.44 310.4 L634.2 310.96 L635.9 311.96 L637.59 312.2 L639.4 313.44 L641.42 314.08 L643.56 314.97 L645.7 316.07 L647.8 316.86 L649.91 317.98 L652 318.99 L654.07 319.29 L656.13 319.66 L658.2 319.97 L660.1 320.02 L662.01 319.9 L664.5 320.15 L668.37 319.99 L672.83 320.58 L676 320.3" fill="none" stroke="#4f7fc2" stroke-width="1.15" stroke-linejoin="round" />
<rect x="495.1" y="8.8" width="181.1" height="134" fill="none" stroke="#222" stroke-width="1.1" />
<line x1="495.1" y1="142.8" x2="495.1" y2="145" stroke="#222" stroke-width="0.9" />
<text x="495.1" y="153.7" font-size="8.1" text-anchor="middle" font-weight="normal" fill="#000" stroke="#000" stroke-width="0.198" textLength="17.3" lengthAdjust="spacingAndGlyphs">1350</text>
<line x1="520.97" y1="142.8" x2="520.97" y2="145" stroke="#222" stroke-width="0.9" />
<text x="520.97" y="153.7" font-size="8.1" text-anchor="middle" font-weight="normal" fill="#000" stroke="#000" stroke-width="0.198" textLength="17.3" lengthAdjust="spacingAndGlyphs">1300</text>
<line x1="546.84" y1="142.8" x2="546.84" y2="145" stroke="#222" stroke-width="0.9" />
<text x="546.84" y="153.7" font-size="8.1" text-anchor="middle" font-weight="normal" fill="#000" stroke="#000" stroke-width="0.198" textLength="17.3" lengthAdjust="spacingAndGlyphs">1250</text>
<line x1="572.71" y1="142.8" x2="572.71" y2="145" stroke="#222" stroke-width="0.9" />
<text x="572.71" y="153.7" font-size="8.1" text-anchor="middle" font-weight="normal" fill="#000" stroke="#000" stroke-width="0.198" textLength="17.3" lengthAdjust="spacingAndGlyphs">1200</text>
<line x1="598.58" y1="142.8" x2="598.58" y2="145" stroke="#222" stroke-width="0.9" />
<text x="598.58" y="153.7" font-size="8.1" text-anchor="middle" font-weight="normal" fill="#000" stroke="#000" stroke-width="0.198" textLength="17.3" lengthAdjust="spacingAndGlyphs">1150</text>
<line x1="624.45" y1="142.8" x2="624.45" y2="145" stroke="#222" stroke-width="0.9" />
<text x="624.45" y="153.7" font-size="8.1" text-anchor="middle" font-weight="normal" fill="#000" stroke="#000" stroke-width="0.198" textLength="17.3" lengthAdjust="spacingAndGlyphs">1100</text>
<line x1="650.32" y1="142.8" x2="650.32" y2="145" stroke="#222" stroke-width="0.9" />
<text x="650.32" y="153.7" font-size="8.1" text-anchor="middle" font-weight="normal" fill="#000" stroke="#000" stroke-width="0.198" textLength="17.3" lengthAdjust="spacingAndGlyphs">1050</text>
<line x1="676.19" y1="142.8" x2="676.19" y2="145" stroke="#222" stroke-width="0.9" />
<text x="676.19" y="153.7" font-size="8.1" text-anchor="middle" font-weight="normal" fill="#000" stroke="#000" stroke-width="0.198" textLength="17.3" lengthAdjust="spacingAndGlyphs">1000</text>
<rect x="495.1" y="193.5" width="181.1" height="132.7" fill="none" stroke="#222" stroke-width="1.1" />
<line x1="495.1" y1="326.2" x2="495.1" y2="328.4" stroke="#222" stroke-width="0.9" />
<text x="495.1" y="337.1" font-size="8.1" text-anchor="middle" font-weight="normal" fill="#000" stroke="#000" stroke-width="0.198" textLength="17.3" lengthAdjust="spacingAndGlyphs">1350</text>
<line x1="520.97" y1="326.2" x2="520.97" y2="328.4" stroke="#222" stroke-width="0.9" />
<text x="520.97" y="337.1" font-size="8.1" text-anchor="middle" font-weight="normal" fill="#000" stroke="#000" stroke-width="0.198" textLength="17.3" lengthAdjust="spacingAndGlyphs">1300</text>
<line x1="546.84" y1="326.2" x2="546.84" y2="328.4" stroke="#222" stroke-width="0.9" />
<text x="546.84" y="337.1" font-size="8.1" text-anchor="middle" font-weight="normal" fill="#000" stroke="#000" stroke-width="0.198" textLength="17.3" lengthAdjust="spacingAndGlyphs">1250</text>
<line x1="572.71" y1="326.2" x2="572.71" y2="328.4" stroke="#222" stroke-width="0.9" />
<text x="572.71" y="337.1" font-size="8.1" text-anchor="middle" font-weight="normal" fill="#000" stroke="#000" stroke-width="0.198" textLength="17.3" lengthAdjust="spacingAndGlyphs">1200</text>
<line x1="598.58" y1="326.2" x2="598.58" y2="328.4" stroke="#222" stroke-width="0.9" />
<text x="598.58" y="337.1" font-size="8.1" text-anchor="middle" font-weight="normal" fill="#000" stroke="#000" stroke-width="0.198" textLength="17.3" lengthAdjust="spacingAndGlyphs">1150</text>
<line x1="624.45" y1="326.2" x2="624.45" y2="328.4" stroke="#222" stroke-width="0.9" />
<text x="624.45" y="337.1" font-size="8.1" text-anchor="middle" font-weight="normal" fill="#000" stroke="#000" stroke-width="0.198" textLength="17.3" lengthAdjust="spacingAndGlyphs">1100</text>
<line x1="650.32" y1="326.2" x2="650.32" y2="328.4" stroke="#222" stroke-width="0.9" />
<text x="650.32" y="337.1" font-size="8.1" text-anchor="middle" font-weight="normal" fill="#000" stroke="#000" stroke-width="0.198" textLength="17.3" lengthAdjust="spacingAndGlyphs">1050</text>
<line x1="676.19" y1="326.2" x2="676.19" y2="328.4" stroke="#222" stroke-width="0.9" />
<text x="676.19" y="337.1" font-size="8.1" text-anchor="middle" font-weight="normal" fill="#000" stroke="#000" stroke-width="0.198" textLength="17.3" lengthAdjust="spacingAndGlyphs">1000</text>
<text x="585.4" y="168.3" font-size="8.75" text-anchor="middle" font-weight="normal" fill="#000" stroke="#000" stroke-width="0.214" >Wavenumber (cm<tspan dy="-3.2" font-size="5.6">-1</tspan><tspan dy="3.2">)</tspan></text>
<text x="487.6" y="77.3" font-size="8.77" text-anchor="middle" font-weight="normal" fill="#000" stroke="#000" stroke-width="0.214" transform="rotate(-90 487.6 77.3)">IR amp (arb. units)</text>
<text x="487.6" y="262.3" font-size="8.77" text-anchor="middle" font-weight="normal" fill="#000" stroke="#000" stroke-width="0.214" transform="rotate(-90 487.6 262.3)">IR amp (arb. units)</text>
<line x1="623.7" y1="16.3" x2="639" y2="16.3" stroke="#d93a35" stroke-width="1.2" />
<text x="641.5" y="18.9" font-size="7.15" text-anchor="start" font-weight="normal" fill="#000" stroke="#000" stroke-width="0.175" >Site 1</text>
<line x1="623.7" y1="25.7" x2="639" y2="25.7" stroke="#f09a5c" stroke-width="1.2" />
<text x="641.5" y="28.3" font-size="7.15" text-anchor="start" font-weight="normal" fill="#000" stroke="#000" stroke-width="0.175" >Site 2</text>
<line x1="623.7" y1="35.1" x2="639" y2="35.1" stroke="#f0c468" stroke-width="1.2" />
<text x="641.5" y="37.7" font-size="7.15" text-anchor="start" font-weight="normal" fill="#000" stroke="#000" stroke-width="0.175" >Site 3</text>
<line x1="623.7" y1="44.5" x2="639" y2="44.5" stroke="#86b474" stroke-width="1.2" />
<text x="641.5" y="47.1" font-size="7.15" text-anchor="start" font-weight="normal" fill="#000" stroke="#000" stroke-width="0.175" >Site 4</text>
<line x1="623.7" y1="53.9" x2="639" y2="53.9" stroke="#4f7fc2" stroke-width="1.2" />
<text x="641.5" y="56.5" font-size="7.15" text-anchor="start" font-weight="normal" fill="#000" stroke="#000" stroke-width="0.175" >Site 5</text>
<line x1="630" y1="202.3" x2="645.7" y2="202.3" stroke="#d93a35" stroke-width="1.2" />
<text x="647.8" y="204.9" font-size="7.3" text-anchor="start" font-weight="normal" fill="#000" stroke="#000" stroke-width="0.178" >Site 6</text>
<line x1="630" y1="211.63" x2="645.7" y2="211.63" stroke="#f09a5c" stroke-width="1.2" />
<text x="647.8" y="214.23" font-size="7.3" text-anchor="start" font-weight="normal" fill="#000" stroke="#000" stroke-width="0.178" >Site 7</text>
<line x1="630" y1="220.96" x2="645.7" y2="220.96" stroke="#f0c468" stroke-width="1.2" />
<text x="647.8" y="223.56" font-size="7.3" text-anchor="start" font-weight="normal" fill="#000" stroke="#000" stroke-width="0.178" >Site 8</text>
<line x1="630" y1="230.29" x2="645.7" y2="230.29" stroke="#86b474" stroke-width="1.2" />
<text x="647.8" y="232.89" font-size="7.3" text-anchor="start" font-weight="normal" fill="#000" stroke="#000" stroke-width="0.178" >Site 9</text>
<line x1="630" y1="239.62" x2="645.7" y2="239.62" stroke="#4f7fc2" stroke-width="1.2" />
<text x="647.8" y="242.22" font-size="7.3" text-anchor="start" font-weight="normal" fill="#000" stroke="#000" stroke-width="0.178" >Site 10</text>
<rect x="13.5" y="348.5" width="135" height="128.8" fill="#777"/>
<rect x="13.5" y="348.5" width="135" height="128.8" filter="url(#temg)"/>
<rect x="164" y="349" width="134.4" height="127.5" fill="#666"/>
<rect x="164" y="349" width="134.4" height="127.5" filter="url(#temi)"/>
<rect x="14.3" y="486.2" width="135.4" height="128.8" fill="#777"/>
<rect x="14.3" y="486.2" width="135.4" height="128.8" filter="url(#temh)"/>
<rect x="164.3" y="486.5" width="135.4" height="129" fill="#888"/>
<rect x="164.3" y="486.5" width="135.4" height="129" filter="url(#temj)"/>
<circle cx="82" cy="548" r="28" fill="url(#glowh)"/>
<circle cx="232" cy="556" r="32" fill="url(#glowj)"/>
<defs><pattern id="latt" patternUnits="userSpaceOnUse" width="2.2" height="2.2" patternTransform="rotate(30)"><rect width="2.2" height="2.2" fill="#4c4c4c"/><circle cx="1.1" cy="1.1" r="0.62" fill="#bdbdbd"/></pattern>
<clipPath id="pdsg"><path d="M27.9 378.3 L27.77 377.53 L27.56 376.43 L27.4 375.17 L27.4 373.9 L27.59 372.64 L27.91 371.3 L28.32 369.94 L28.8 368.6 L29.34 367.24 L29.97 365.86 L30.66 364.55 L31.4 363.4 L32.17 362.46 L32.99 361.66 L33.88 360.96 L34.9 360.3 L36.08 359.65 L37.39 359.06 L38.75 358.53 L40.1 358.1 L41.44 357.82 L42.8 357.65 L44.14 357.51 L45.4 357.3 L46.56 357.03 L47.66 356.74 L48.72 356.38 L49.8 355.9 L50.94 355.25 L52.11 354.47 L53.23 353.66 L54.2 352.9 L54.93 352.19 L55.5 351.48 L56.07 350.84 L56.8 350.3 L57.69 349.89 L58.67 349.59 L59.82 349.36 L61.2 349.2 L62.94 349.1 L64.97 349.06 L67.06 349.1 L69 349.2 L70.86 349.34 L72.72 349.53 L74.34 349.83 L75.5 350.3 L76.07 350.99 L76.19 351.85 L76.05 352.81 L75.8 353.8 L75.4 354.82 L74.78 355.89 L74.12 357 L73.6 358.1 L73.23 359.17 L72.92 360.24 L72.71 361.33 L72.6 362.5 L72.67 363.78 L72.88 365.13 L73.1 366.5 L73.2 367.8 L73.18 369.07 L73.11 370.34 L72.9 371.51 L72.5 372.5 L71.9 373.28 L71.14 373.89 L70.19 374.39 L69 374.8 L67.5 375.1 L65.72 375.29 L63.83 375.43 L62 375.6 L60.25 375.82 L58.5 376.04 L56.75 376.27 L55 376.5 L53.25 376.73 L51.5 376.95 L49.75 377.18 L48 377.4 L46.25 377.62 L44.5 377.82 L42.75 378.05 L41 378.3 L39.19 378.62 L37.34 378.98 L35.57 379.33 L34 379.6 L32.65 379.81 L31.47 379.99 L30.45 380.07 L29.6 380 L28.96 379.79 L28.51 379.45 L28.18 378.96 L27.9 378.3 Z"/></clipPath></defs>
<rect x="13.5" y="348.5" width="70" height="35" fill="url(#latt)" clip-path="url(#pdsg)" opacity="0.75"/>
<path d="M27.9 378.3 L27.77 377.53 L27.56 376.43 L27.4 375.17 L27.4 373.9 L27.59 372.64 L27.91 371.3 L28.32 369.94 L28.8 368.6 L29.34 367.24 L29.97 365.86 L30.66 364.55 L31.4 363.4 L32.17 362.46 L32.99 361.66 L33.88 360.96 L34.9 360.3 L36.08 359.65 L37.39 359.06 L38.75 358.53 L40.1 358.1 L41.44 357.82 L42.8 357.65 L44.14 357.51 L45.4 357.3 L46.56 357.03 L47.66 356.74 L48.72 356.38 L49.8 355.9 L50.94 355.25 L52.11 354.47 L53.23 353.66 L54.2 352.9 L54.93 352.19 L55.5 351.48 L56.07 350.84 L56.8 350.3 L57.69 349.89 L58.67 349.59 L59.82 349.36 L61.2 349.2 L62.94 349.1 L64.97 349.06 L67.06 349.1 L69 349.2 L70.86 349.34 L72.72 349.53 L74.34 349.83 L75.5 350.3 L76.07 350.99 L76.19 351.85 L76.05 352.81 L75.8 353.8 L75.4 354.82 L74.78 355.89 L74.12 357 L73.6 358.1 L73.23 359.17 L72.92 360.24 L72.71 361.33 L72.6 362.5 L72.67 363.78 L72.88 365.13 L73.1 366.5 L73.2 367.8 L73.18 369.07 L73.11 370.34 L72.9 371.51 L72.5 372.5 L71.9 373.28 L71.14 373.89 L70.19 374.39 L69 374.8 L67.5 375.1 L65.72 375.29 L63.83 375.43 L62 375.6 L60.25 375.82 L58.5 376.04 L56.75 376.27 L55 376.5 L53.25 376.73 L51.5 376.95 L49.75 377.18 L48 377.4 L46.25 377.62 L44.5 377.82 L42.75 378.05 L41 378.3 L39.19 378.62 L37.34 378.98 L35.57 379.33 L34 379.6 L32.65 379.81 L31.47 379.99 L30.45 380.07 L29.6 380 L28.96 379.79 L28.51 379.45 L28.18 378.96 L27.9 378.3 Z" fill="none" stroke="#f4f4f4" stroke-width="0.9" stroke-dasharray="1.6 0.8"/>
<path d="M192.4 390 L192.76 388.72 L193.28 386.88 L193.91 384.85 L194.6 383 L195.36 381.43 L196.21 379.95 L197.13 378.47 L198.1 376.9 L199.14 375.17 L200.24 373.35 L201.38 371.55 L202.5 369.9 L203.58 368.4 L204.65 367 L205.74 365.72 L206.9 364.6 L208.12 363.65 L209.39 362.85 L210.71 362.18 L212.1 361.6 L213.6 361.09 L215.2 360.66 L216.8 360.37 L218.3 360.3 L219.69 360.43 L221.01 360.74 L222.28 361.25 L223.5 362 L224.72 363.07 L225.91 364.43 L227 365.9 L227.9 367.3 L228.62 368.63 L229.19 369.96 L229.56 371.26 L229.7 372.5 L229.51 373.68 L229.05 374.81 L228.46 375.88 L227.9 376.9 L227.34 377.82 L226.71 378.65 L226.13 379.48 L225.7 380.4 L225.51 381.48 L225.47 382.66 L225.46 383.81 L225.3 384.8 L225.03 385.6 L224.7 386.26 L224.22 386.85 L223.5 387.4 L222.48 387.91 L221.22 388.36 L219.81 388.78 L218.3 389.2 L216.66 389.63 L214.86 390.05 L213.04 390.47 L211.3 390.9 L209.67 391.34 L208.09 391.77 L206.56 392.23 L205.1 392.7 L203.71 393.22 L202.39 393.78 L201.12 394.32 L199.9 394.8 L198.69 395.25 L197.51 395.69 L196.43 396.03 L195.5 396.2 L194.76 396.24 L194.18 396.17 L193.71 395.89 L193.3 395.3 L192.91 394.32 L192.58 393.03 L192.38 391.55 L192.4 390 Z" fill="none" stroke="#f4f4f4" stroke-width="0.9" stroke-dasharray="1.6 0.8"/>
<text x="52.4" y="371.7" font-size="9.2" text-anchor="middle" font-weight="bold" fill="#fff" >PDs</text>
<text x="212.3" y="384.8" font-size="9.2" text-anchor="middle" font-weight="bold" fill="#fff" >PDs</text>
<rect x="110" y="363.5" width="17.4" height="17.4" fill="none" stroke="#e8a800" stroke-width="0.8" stroke-dasharray="1.6 0.8"/>
<rect x="197.9" y="435.2" width="18" height="17.6" fill="none" stroke="#e8a800" stroke-width="0.8" stroke-dasharray="1.6 0.8"/>
<text x="74.1" y="389" font-size="6.9" text-anchor="start" font-weight="bold" fill="#eaa800" textLength="75" lengthAdjust="spacingAndGlyphs" stroke="#eaa800" stroke-width="0.2">Fast Fourier transform</text>
<text x="174.2" y="459.6" font-size="6.9" text-anchor="start" font-weight="bold" fill="#eaa800" textLength="73.3" lengthAdjust="spacingAndGlyphs" stroke="#eaa800" stroke-width="0.2">Fast Fourier transform</text>
<text x="76.3" y="423.3" font-size="11.2" text-anchor="start" font-weight="normal" fill="#fff" stroke="#fff" stroke-width="0.274" textLength="55.4" lengthAdjust="spacingAndGlyphs">Terpolymer</text>
<text x="230.6" y="429" font-size="11.2" text-anchor="start" font-weight="normal" fill="#fff" stroke="#fff" stroke-width="0.274" textLength="56.4" lengthAdjust="spacingAndGlyphs">Terpolymer</text>
<text x="19.8" y="473.2" font-size="11.3" text-anchor="start" font-weight="normal" fill="#e8e8e8" stroke="#e8e8e8" stroke-width="0.276" textLength="78.2" lengthAdjust="spacingAndGlyphs">The lower  layer</text>
<text x="173.5" y="472.5" font-size="11.3" text-anchor="start" font-weight="normal" fill="#e8e8e8" stroke="#e8e8e8" stroke-width="0.276" textLength="79.6" lengthAdjust="spacingAndGlyphs">The upper  layer</text>
<text x="129.6" y="466.8" font-size="8.2" text-anchor="middle" font-weight="bold" fill="#fff" >2 nm</text>
<line x1="116.5" y1="471.5" x2="143.7" y2="471.5" stroke="#fff" stroke-width="1.8" />
<text x="283.6" y="465.6" font-size="8.2" text-anchor="middle" font-weight="bold" fill="#fff" >2 nm</text>
<line x1="272.7" y1="470.4" x2="296" y2="470.4" stroke="#fff" stroke-width="1.8" />
<text x="128.5" y="606.5" font-size="8.6" text-anchor="middle" font-weight="bold" fill="#fff" >2 1/nm</text>
<line x1="113.3" y1="610.4" x2="143.3" y2="610.4" stroke="#fff" stroke-width="1.8" />
<text x="279" y="607.2" font-size="8.6" text-anchor="middle" font-weight="bold" fill="#fff" >2 1/nm</text>
<line x1="264.5" y1="611.6" x2="294" y2="611.6" stroke="#fff" stroke-width="1.8" />
<path d="M89.9 525.2 H94.3 M92.1 523 V527.4" stroke="#fff" stroke-width="0.8" opacity="0.9"/>
<path d="M65.1 539.7 H69.5 M67.3 537.5 V541.9" stroke="#fff" stroke-width="0.8" opacity="0.9"/>
<path d="M104.9 540.6 H109.3 M107.1 538.4 V542.8" stroke="#fff" stroke-width="0.8" opacity="0.9"/>
<path d="M79.6 547.6 H84 M81.8 545.4 V549.8" stroke="#fff" stroke-width="0.8" opacity="0.9"/>
<path d="M95.7 555.8 H100.1 M97.9 553.6 V558" stroke="#fff" stroke-width="0.8" opacity="0.9"/>
<path d="M56.5 558.1 H60.9 M58.7 555.9 V560.3" stroke="#fff" stroke-width="0.8" opacity="0.9"/>
<path d="M72 572 H76.4 M74.2 569.8 V574.2" stroke="#fff" stroke-width="0.8" opacity="0.9"/>
<text x="93.3" y="518" font-size="9" text-anchor="middle" font-weight="normal" fill="#fff" stroke="#fff" stroke-width="0.220" >&#946;</text>
<text x="64" y="537.6" font-size="9" text-anchor="middle" font-weight="normal" fill="#fff" stroke="#fff" stroke-width="0.220" >&#945;</text>
<text x="115.2" y="539.9" font-size="9" text-anchor="middle" font-weight="normal" fill="#fff" stroke="#fff" stroke-width="0.220" >&#946;</text>
<text x="106.4" y="563.7" font-size="9" text-anchor="middle" font-weight="normal" fill="#fff" stroke="#fff" stroke-width="0.220" >&#945;</text>
<text x="51.1" y="565.3" font-size="9" text-anchor="middle" font-weight="normal" fill="#fff" stroke="#fff" stroke-width="0.220" >&#946;</text>
<text x="78.8" y="584.8" font-size="9" text-anchor="middle" font-weight="normal" fill="#fff" stroke="#fff" stroke-width="0.220" >&#946;</text>
<text x="239.4" y="528.4" font-size="9" text-anchor="middle" font-weight="normal" fill="#fff" stroke="#fff" stroke-width="0.220" >&#946;</text>
<text x="219.1" y="542.9" font-size="9" text-anchor="middle" font-weight="normal" fill="#fff" stroke="#fff" stroke-width="0.220" >&#945;</text>
<text x="253.6" y="549.6" font-size="9" text-anchor="middle" font-weight="normal" fill="#fff" stroke="#fff" stroke-width="0.220" >&#945;</text>
<text x="209.4" y="566.4" font-size="9" text-anchor="middle" font-weight="normal" fill="#fff" stroke="#fff" stroke-width="0.220" >&#945;</text>
<text x="243.3" y="576.1" font-size="9" text-anchor="middle" font-weight="normal" fill="#fff" stroke="#fff" stroke-width="0.220" >&#945;</text>
<text x="219.6" y="587.1" font-size="9" text-anchor="middle" font-weight="normal" fill="#fff" stroke="#fff" stroke-width="0.220" >&#946;</text>
<rect x="338.3" y="378.8" width="149.8" height="212.4" fill="none" stroke="#1a1a1a" stroke-width="1.4" />
<line x1="335.5" y1="391.1" x2="338.3" y2="391.1" stroke="#222" stroke-width="0.9" />
<line x1="336.7" y1="403.62" x2="338.3" y2="403.62" stroke="#222" stroke-width="0.9" />
<line x1="335.5" y1="416.14" x2="338.3" y2="416.14" stroke="#222" stroke-width="0.9" />
<line x1="336.7" y1="428.66" x2="338.3" y2="428.66" stroke="#222" stroke-width="0.9" />
<line x1="335.5" y1="441.18" x2="338.3" y2="441.18" stroke="#222" stroke-width="0.9" />
<line x1="336.7" y1="453.7" x2="338.3" y2="453.7" stroke="#222" stroke-width="0.9" />
<line x1="335.5" y1="466.22" x2="338.3" y2="466.22" stroke="#222" stroke-width="0.9" />
<line x1="336.7" y1="478.74" x2="338.3" y2="478.74" stroke="#222" stroke-width="0.9" />
<line x1="335.5" y1="491.26" x2="338.3" y2="491.26" stroke="#222" stroke-width="0.9" />
<line x1="336.7" y1="503.78" x2="338.3" y2="503.78" stroke="#222" stroke-width="0.9" />
<line x1="335.5" y1="516.3" x2="338.3" y2="516.3" stroke="#222" stroke-width="0.9" />
<line x1="336.7" y1="528.82" x2="338.3" y2="528.82" stroke="#222" stroke-width="0.9" />
<line x1="335.5" y1="541.34" x2="338.3" y2="541.34" stroke="#222" stroke-width="0.9" />
<line x1="336.7" y1="553.86" x2="338.3" y2="553.86" stroke="#222" stroke-width="0.9" />
<line x1="335.5" y1="566.38" x2="338.3" y2="566.38" stroke="#222" stroke-width="0.9" />
<line x1="336.7" y1="578.9" x2="338.3" y2="578.9" stroke="#222" stroke-width="0.9" />
<line x1="335.5" y1="591.42" x2="338.3" y2="591.42" stroke="#222" stroke-width="0.9" />
<text x="334.7" y="394.8" font-size="10.3" text-anchor="end" font-weight="normal" fill="#000" stroke="#000" stroke-width="0.252" >0</text>
<text x="334.7" y="419.84" font-size="10.3" text-anchor="end" font-weight="normal" fill="#000" stroke="#000" stroke-width="0.252" >-2</text>
<text x="334.7" y="444.88" font-size="10.3" text-anchor="end" font-weight="normal" fill="#000" stroke="#000" stroke-width="0.252" >-4</text>
<text x="334.7" y="469.92" font-size="10.3" text-anchor="end" font-weight="normal" fill="#000" stroke="#000" stroke-width="0.252" >-6</text>
<text x="334.7" y="494.96" font-size="10.3" text-anchor="end" font-weight="normal" fill="#000" stroke="#000" stroke-width="0.252" >-8</text>
<text x="334.7" y="520" font-size="10.3" text-anchor="end" font-weight="normal" fill="#000" stroke="#000" stroke-width="0.252" >-10</text>
<text x="334.7" y="545.04" font-size="10.3" text-anchor="end" font-weight="normal" fill="#000" stroke="#000" stroke-width="0.252" >-12</text>
<text x="334.7" y="570.08" font-size="10.3" text-anchor="end" font-weight="normal" fill="#000" stroke="#000" stroke-width="0.252" >-14</text>
<text x="334.7" y="595.12" font-size="10.3" text-anchor="end" font-weight="normal" fill="#000" stroke="#000" stroke-width="0.252" >-16</text>
<line x1="337.52" y1="591.2" x2="337.52" y2="592.8" stroke="#222" stroke-width="0.9" />
<line x1="350.2" y1="591.2" x2="350.2" y2="594" stroke="#222" stroke-width="0.9" />
<line x1="362.88" y1="591.2" x2="362.88" y2="592.8" stroke="#222" stroke-width="0.9" />
<line x1="375.56" y1="591.2" x2="375.56" y2="594" stroke="#222" stroke-width="0.9" />
<line x1="388.24" y1="591.2" x2="388.24" y2="592.8" stroke="#222" stroke-width="0.9" />
<line x1="400.92" y1="591.2" x2="400.92" y2="594" stroke="#222" stroke-width="0.9" />
<line x1="413.6" y1="591.2" x2="413.6" y2="592.8" stroke="#222" stroke-width="0.9" />
<line x1="426.28" y1="591.2" x2="426.28" y2="594" stroke="#222" stroke-width="0.9" />
<line x1="438.96" y1="591.2" x2="438.96" y2="592.8" stroke="#222" stroke-width="0.9" />
<line x1="451.64" y1="591.2" x2="451.64" y2="594" stroke="#222" stroke-width="0.9" />
<line x1="464.32" y1="591.2" x2="464.32" y2="592.8" stroke="#222" stroke-width="0.9" />
<line x1="477" y1="591.2" x2="477" y2="594" stroke="#222" stroke-width="0.9" />
<text x="350.2" y="603.6" font-size="10.3" text-anchor="middle" font-weight="normal" fill="#000" stroke="#000" stroke-width="0.252" >0</text>
<text x="375.56" y="603.6" font-size="10.3" text-anchor="middle" font-weight="normal" fill="#000" stroke="#000" stroke-width="0.252" >20</text>
<text x="400.92" y="603.6" font-size="10.3" text-anchor="middle" font-weight="normal" fill="#000" stroke="#000" stroke-width="0.252" >40</text>
<text x="426.28" y="603.6" font-size="10.3" text-anchor="middle" font-weight="normal" fill="#000" stroke="#000" stroke-width="0.252" >60</text>
<text x="451.64" y="603.6" font-size="10.3" text-anchor="middle" font-weight="normal" fill="#000" stroke="#000" stroke-width="0.252" >80</text>
<text x="477" y="603.6" font-size="10.3" text-anchor="middle" font-weight="normal" fill="#000" stroke="#000" stroke-width="0.252" >100</text>
<text x="419.3" y="618.4" font-size="11.1" text-anchor="middle" font-weight="normal" fill="#000" stroke="#000" stroke-width="0.271" >Electric field (MV m<tspan dy="-4" font-size="7">-1</tspan><tspan dy="4">)</tspan></text>
<text x="317.4" y="493.9" font-size="11.2" text-anchor="middle" font-weight="normal" fill="#000" stroke="#000" stroke-width="0.274" transform="rotate(-90 317.4 493.9)">Strain (%)</text>
<text x="486.7" y="393" font-size="9.2" text-anchor="end" font-weight="normal" fill="#000" stroke="#000" stroke-width="0.225" >1 Hz</text>
<path d="M350.2 391.1 L353.31 391.76 L357.63 392.65 L362.79 393.71 L368.43 394.89 L374.16 396.1 L379.62 397.3 L384.44 398.41 L388.24 399.36 L391.04 400.18 L393.19 400.93 L394.85 401.63 L396.17 402.28 L397.28 402.92 L398.34 403.55 L399.51 404.2 L400.92 404.87 L402.5 405.57 L404.09 406.29 L405.67 407 L407.26 407.72 L408.84 408.43 L410.43 409.14 L412.01 409.83 L413.6 410.51 L415.18 411.16 L416.77 411.78 L418.35 412.39 L419.94 412.99 L421.52 413.59 L423.11 414.21 L424.69 414.84 L426.28 415.51 L427.86 416.23 L429.45 416.98 L431.03 417.77 L432.62 418.56 L434.2 419.35 L435.79 420.11 L437.38 420.84 L438.96 421.52 L440.54 422.16 L442.13 422.76 L443.71 423.34 L445.3 423.89 L446.89 424.42 L448.47 424.93 L450.06 425.42 L451.64 425.91 L453.22 426.37 L454.81 426.83 L456.39 427.26 L457.98 427.68 L459.57 428.08 L461.15 428.46 L462.74 428.82 L464.32 429.16 L465.99 429.48 L467.79 429.8 L469.63 430.09 L471.45 430.37 L473.17 430.61 L474.72 430.83 L476.02 431.02 L477 431.16" fill="none" stroke="#3f6fc0" stroke-width="1.5" stroke-linejoin="round" />
<path d="M350.2 391.1 L353.31 394.57 L357.63 399.36 L362.79 405.08 L368.43 411.34 L374.16 417.74 L379.62 423.9 L384.44 429.42 L388.24 433.92 L391.04 437.41 L393.19 440.29 L394.85 442.69 L396.17 444.77 L397.28 446.67 L398.34 448.52 L399.51 450.49 L400.92 452.7 L402.5 455.05 L404.09 457.35 L405.67 459.64 L407.26 461.95 L408.84 464.31 L410.43 466.77 L412.01 469.36 L413.6 472.1 L415.18 475 L416.77 477.99 L418.35 481.09 L419.94 484.29 L421.52 487.59 L423.11 491 L424.69 494.52 L426.28 498.15 L427.86 502 L429.45 506.12 L431.03 510.42 L432.62 514.8 L434.2 519.14 L435.79 523.35 L437.38 527.32 L438.96 530.95 L440.54 534.26 L442.13 537.37 L443.71 540.29 L445.3 543.05 L446.89 545.67 L448.47 548.18 L450.06 550.61 L451.64 552.98 L453.22 555.32 L454.81 557.63 L456.39 559.85 L457.98 561.97 L459.57 563.93 L461.15 565.7 L462.74 567.24 L464.32 568.51 L465.99 569.46 L467.79 570.11 L469.63 570.51 L471.45 570.73 L473.17 570.83 L474.72 570.87 L476.02 570.91 L477 571.01" fill="none" stroke="#e8413a" stroke-width="1.5" stroke-linejoin="round" />
<path d="M388.24 397.49 V401.24 M386.64 397.49 H389.84 M386.64 401.24 H389.84" stroke="#3f6fc0" stroke-width="0.8" fill="none"/>
<path d="M400.92 402.62 V407.13 M399.32 402.62 H402.52 M399.32 407.13 H402.52" stroke="#3f6fc0" stroke-width="0.8" fill="none"/>
<path d="M413.6 408 V413.01 M412 408 H415.2 M412 413.01 H415.2" stroke="#3f6fc0" stroke-width="0.8" fill="none"/>
<path d="M426.28 412.76 V418.27 M424.68 412.76 H427.88 M424.68 418.27 H427.88" stroke="#3f6fc0" stroke-width="0.8" fill="none"/>
<path d="M438.96 417.77 V425.28 M437.36 417.77 H440.56 M437.36 425.28 H440.56" stroke="#3f6fc0" stroke-width="0.8" fill="none"/>
<path d="M451.64 422.15 V429.66 M450.04 422.15 H453.24 M450.04 429.66 H453.24" stroke="#3f6fc0" stroke-width="0.8" fill="none"/>
<path d="M464.32 425.4 V432.92 M462.72 425.4 H465.92 M462.72 432.92 H465.92" stroke="#3f6fc0" stroke-width="0.8" fill="none"/>
<path d="M477 427.41 V434.92 M475.4 427.41 H478.6 M475.4 434.92 H478.6" stroke="#3f6fc0" stroke-width="0.8" fill="none"/>
<path d="M388.24 430.16 V437.67 M386.64 430.16 H389.84 M386.64 437.67 H389.84" stroke="#e8413a" stroke-width="0.8" fill="none"/>
<path d="M400.92 448.32 V457.08 M399.32 448.32 H402.52 M399.32 457.08 H402.52" stroke="#e8413a" stroke-width="0.8" fill="none"/>
<path d="M413.6 467.1 V477.11 M412 467.1 H415.2 M412 477.11 H415.2" stroke="#e8413a" stroke-width="0.8" fill="none"/>
<path d="M426.28 493.14 V503.15 M424.68 493.14 H427.88 M424.68 503.15 H427.88" stroke="#e8413a" stroke-width="0.8" fill="none"/>
<path d="M438.96 525.31 V536.58 M437.36 525.31 H440.56 M437.36 536.58 H440.56" stroke="#e8413a" stroke-width="0.8" fill="none"/>
<path d="M451.64 547.35 V558.62 M450.04 547.35 H453.24 M450.04 558.62 H453.24" stroke="#e8413a" stroke-width="0.8" fill="none"/>
<path d="M464.32 563.5 V573.52 M462.72 563.5 H465.92 M462.72 573.52 H465.92" stroke="#e8413a" stroke-width="0.8" fill="none"/>
<path d="M477 565.38 V576.65 M475.4 565.38 H478.6 M475.4 576.65 H478.6" stroke="#e8413a" stroke-width="0.8" fill="none"/>
<rect x="385.94" y="397.06" width="4.6" height="4.6" rx="0.8" fill="#3f6fc0"/>
<rect x="398.62" y="402.57" width="4.6" height="4.6" rx="0.8" fill="#3f6fc0"/>
<rect x="411.3" y="408.21" width="4.6" height="4.6" rx="0.8" fill="#3f6fc0"/>
<rect x="423.98" y="413.21" width="4.6" height="4.6" rx="0.8" fill="#3f6fc0"/>
<rect x="436.66" y="419.22" width="4.6" height="4.6" rx="0.8" fill="#3f6fc0"/>
<rect x="449.34" y="423.61" width="4.6" height="4.6" rx="0.8" fill="#3f6fc0"/>
<rect x="462.02" y="426.86" width="4.6" height="4.6" rx="0.8" fill="#3f6fc0"/>
<rect x="474.7" y="428.86" width="4.6" height="4.6" rx="0.8" fill="#3f6fc0"/>
<circle cx="388.24" cy="433.92" r="2.3" fill="#fff" stroke="#e8413a" stroke-width="1.9"/>
<circle cx="400.92" cy="452.7" r="2.3" fill="#fff" stroke="#e8413a" stroke-width="1.9"/>
<circle cx="413.6" cy="472.1" r="2.3" fill="#fff" stroke="#e8413a" stroke-width="1.9"/>
<circle cx="426.28" cy="498.15" r="2.3" fill="#fff" stroke="#e8413a" stroke-width="1.9"/>
<circle cx="438.96" cy="530.95" r="2.3" fill="#fff" stroke="#e8413a" stroke-width="1.9"/>
<circle cx="451.64" cy="552.98" r="2.3" fill="#fff" stroke="#e8413a" stroke-width="1.9"/>
<circle cx="464.32" cy="568.51" r="2.3" fill="#fff" stroke="#e8413a" stroke-width="1.9"/>
<circle cx="477" cy="571.01" r="2.3" fill="#fff" stroke="#e8413a" stroke-width="1.9"/>
<rect x="348.1" y="389" width="4.2" height="4.2" fill="#fff" stroke="#e8413a" stroke-width="1.8" />
<line x1="343.8" y1="553.5" x2="362.7" y2="553.5" stroke="#3f6fc0" stroke-width="1.5" />
<rect x="350.4" y="551.2" width="4.6" height="4.6" rx="0.8" fill="#3f6fc0"/>
<text x="364.6" y="556.8" font-size="9.8" text-anchor="start" font-weight="normal" fill="#000" stroke="#000" stroke-width="0.240" >Terpolymer-G</text>
<line x1="343.8" y1="564.6" x2="362.7" y2="564.6" stroke="#e8413a" stroke-width="1.5" />
<circle cx="352.7" cy="564.6" r="2.3" fill="#fff" stroke="#e8413a" stroke-width="1.9"/>
<text x="364.6" y="567.9" font-size="9.8" text-anchor="start" font-weight="normal" fill="#000" stroke="#000" stroke-width="0.240" >Terpolymer/PDs-G</text>
<rect x="524.3" y="377.3" width="151.6" height="214.9" fill="none" stroke="#1a1a1a" stroke-width="1.4" />
<line x1="521.5" y1="579.9" x2="524.3" y2="579.9" stroke="#222" stroke-width="0.9" />
<text x="521.1" y="583.5" font-size="10.2" text-anchor="end" font-weight="normal" fill="#000" stroke="#000" stroke-width="0.249" >0</text>
<line x1="522.7" y1="559.63" x2="524.3" y2="559.63" stroke="#222" stroke-width="0.9" />
<line x1="521.5" y1="539.37" x2="524.3" y2="539.37" stroke="#222" stroke-width="0.9" />
<text x="521.1" y="542.97" font-size="10.2" text-anchor="end" font-weight="normal" fill="#000" stroke="#000" stroke-width="0.249" >3</text>
<line x1="522.7" y1="519.11" x2="524.3" y2="519.11" stroke="#222" stroke-width="0.9" />
<line x1="521.5" y1="498.84" x2="524.3" y2="498.84" stroke="#222" stroke-width="0.9" />
<text x="521.1" y="502.44" font-size="10.2" text-anchor="end" font-weight="normal" fill="#000" stroke="#000" stroke-width="0.249" >6</text>
<line x1="522.7" y1="478.57" x2="524.3" y2="478.57" stroke="#222" stroke-width="0.9" />
<line x1="521.5" y1="458.31" x2="524.3" y2="458.31" stroke="#222" stroke-width="0.9" />
<text x="521.1" y="461.91" font-size="10.2" text-anchor="end" font-weight="normal" fill="#000" stroke="#000" stroke-width="0.249" >9</text>
<line x1="522.7" y1="438.04" x2="524.3" y2="438.04" stroke="#222" stroke-width="0.9" />
<line x1="521.5" y1="417.78" x2="524.3" y2="417.78" stroke="#222" stroke-width="0.9" />
<text x="521.1" y="421.38" font-size="10.2" text-anchor="end" font-weight="normal" fill="#000" stroke="#000" stroke-width="0.249" >12</text>
<line x1="522.7" y1="397.51" x2="524.3" y2="397.51" stroke="#222" stroke-width="0.9" />
<line x1="521.5" y1="377.25" x2="524.3" y2="377.25" stroke="#222" stroke-width="0.9" />
<text x="521.1" y="380.85" font-size="10.2" text-anchor="end" font-weight="normal" fill="#000" stroke="#000" stroke-width="0.249" >15</text>
<line x1="537" y1="592.2" x2="537" y2="594.7" stroke="#222" stroke-width="0.9" />
<line x1="547.3" y1="592.2" x2="547.3" y2="593.7" stroke="#222" stroke-width="0.9" />
<line x1="557.6" y1="592.2" x2="557.6" y2="594.7" stroke="#222" stroke-width="0.9" />
<line x1="567.9" y1="592.2" x2="567.9" y2="593.7" stroke="#222" stroke-width="0.9" />
<line x1="578.2" y1="592.2" x2="578.2" y2="594.7" stroke="#222" stroke-width="0.9" />
<line x1="588.5" y1="592.2" x2="588.5" y2="593.7" stroke="#222" stroke-width="0.9" />
<line x1="598.8" y1="592.2" x2="598.8" y2="594.7" stroke="#222" stroke-width="0.9" />
<line x1="609.1" y1="592.2" x2="609.1" y2="593.7" stroke="#222" stroke-width="0.9" />
<line x1="619.4" y1="592.2" x2="619.4" y2="594.7" stroke="#222" stroke-width="0.9" />
<line x1="629.7" y1="592.2" x2="629.7" y2="593.7" stroke="#222" stroke-width="0.9" />
<line x1="640" y1="592.2" x2="640" y2="594.7" stroke="#222" stroke-width="0.9" />
<line x1="650.3" y1="592.2" x2="650.3" y2="593.7" stroke="#222" stroke-width="0.9" />
<line x1="660.6" y1="592.2" x2="660.6" y2="594.7" stroke="#222" stroke-width="0.9" />
<line x1="670.9" y1="592.2" x2="670.9" y2="593.7" stroke="#222" stroke-width="0.9" />
<rect x="545.1" y="576.45" width="4.2" height="4.2" fill="#24495f" stroke="none" stroke-width="1" />
<text x="549.6" y="567.6" font-size="8.2" text-anchor="middle" font-weight="bold" fill="#24495f" >0.10</text>
<rect x="529.5" y="387.6" width="4.2" height="4.2" fill="#24495f" stroke="none" stroke-width="1" />
<text x="541.6" y="392.8" font-size="8.8" text-anchor="start" font-weight="normal" fill="#111" stroke="#111" stroke-width="0.215" >PZT</text>
<circle cx="568" cy="556.93" r="2.4" fill="#1f6e6e"/>
<text x="570.7" y="548.7" font-size="8.2" text-anchor="middle" font-weight="bold" fill="#1f6e6e" >1.7</text>
<circle cx="531.6" cy="400.78" r="2.4" fill="#1f6e6e"/>
<text x="541.6" y="403.88" font-size="8.8" text-anchor="start" font-weight="normal" fill="#111" stroke="#111" stroke-width="0.215" >PZN-PT</text>
<path d="M588.8 551.43 L591.6 556.43 L586 556.43 Z" fill="#2b9a88"/>
<text x="590.7" y="544" font-size="8.2" text-anchor="middle" font-weight="bold" fill="#2b9a88" >1.9</text>
<path d="M531.6 409.06 L534.4 414.06 L528.8 414.06 Z" fill="#2b9a88"/>
<text x="541.6" y="414.96" font-size="8.8" text-anchor="start" font-weight="normal" fill="#111" stroke="#111" stroke-width="0.215" >P(VDF-TrFE)/CuPc</text>
<path d="M609 528.66 L611.8 523.66 L606.2 523.66 Z" fill="#7aa865"/>
<text x="610.1" y="517.7" font-size="8.2" text-anchor="middle" font-weight="bold" fill="#7aa865" >4.0</text>
<path d="M531.6 425.74 L534.4 420.74 L528.8 420.74 Z" fill="#7aa865"/>
<text x="541.6" y="426.04" font-size="8.8" text-anchor="start" font-weight="normal" fill="#111" stroke="#111" stroke-width="0.215" >P(VDF-TrFE-CTFE)</text>
<path d="M629.8 522.86 L632.8 525.86 L629.8 528.86 L626.8 525.86 Z" fill="#f0a050"/>
<text x="631.5" y="516.8" font-size="8.2" text-anchor="middle" font-weight="bold" fill="#f0a050" >4.0</text>
<path d="M531.6 431.02 L534.6 434.02 L531.6 437.02 L528.6 434.02 Z" fill="#f0a050"/>
<text x="541.6" y="437.12" font-size="8.8" text-anchor="start" font-weight="normal" fill="#111" stroke="#111" stroke-width="0.215" >Irradiated P(VDF-TrFE)</text>
<path d="M647 501.54 L652 498.74 L652 504.34 Z" fill="#e8643e"/>
<text x="651.7" y="491.3" font-size="8.2" text-anchor="middle" font-weight="bold" fill="#e8643e" >5.8</text>
<path d="M528.8 445.1 L533.8 442.3 L533.8 447.9 Z" fill="#e8643e"/>
<text x="541.6" y="448.2" font-size="8.8" text-anchor="start" font-weight="normal" fill="#111" stroke="#111" stroke-width="0.215" >P(VDF-TrFE-CFE-FA)</text>
<path d="M670.6 383.2 L671.31 385.13 L673.36 385.2 L671.74 386.47 L672.3 388.45 L670.6 387.3 L668.9 388.45 L669.46 386.47 L667.84 385.2 L669.89 385.13 Z" fill="#e03232"/>
<text x="666.3" y="401" font-size="8.2" text-anchor="middle" font-weight="bold" fill="#e03232" >14.4</text>
<path d="M531.6 453.28 L532.31 455.21 L534.36 455.28 L532.74 456.55 L533.3 458.53 L531.6 457.38 L529.9 458.53 L530.46 456.55 L528.84 455.28 L530.89 455.21 Z" fill="#e03232"/>
<text x="541.6" y="459.28" font-size="8.8" text-anchor="start" font-weight="normal" fill="#e03232" stroke="#e03232" stroke-width="0.215" >This work</text>
<text x="538" y="470.4" font-size="8.8" text-anchor="start" font-weight="normal" fill="#e03232" stroke="#e03232" stroke-width="0.215" >(Terpolymer/PDs-G)</text>
<text x="0" y="0" font-size="11.1" text-anchor="middle" transform="translate(511.1 493) rotate(-90)">|S<tspan font-size="7" dy="2.2">max</tspan><tspan dy="-2.2">| (%)</tspan></text>
<text x="0" y="0" font-size="1" style="font-family:'Liberation Sans', sans-serif" font-weight="bold" fill="#000" stroke="#000" stroke-width="0.0262" transform="matrix(11.456 0 0 14.964 4.20 8.40)">a</text>
<text x="0" y="0" font-size="1" style="font-family:'Liberation Sans', sans-serif" font-weight="bold" fill="#000" stroke="#000" stroke-width="0.0241" transform="matrix(12.439 0 0 16.599 4.25 194.28)">b</text>
<text x="0" y="0" font-size="1" style="font-family:'Liberation Sans', sans-serif" font-weight="bold" fill="#000" stroke="#000" stroke-width="0.0265" transform="matrix(11.331 0 0 14.964 266.45 8.55)">c</text>
<text x="0" y="0" font-size="1" style="font-family:'Liberation Sans', sans-serif" font-weight="bold" fill="#000" stroke="#000" stroke-width="0.0244" transform="matrix(12.275 0 0 15.782 268.05 192.49)">d</text>
<text x="0" y="0" font-size="1" style="font-family:'Liberation Sans', sans-serif" font-weight="bold" fill="#000" stroke="#000" stroke-width="0.0228" transform="matrix(13.129 0 0 15.237 478.05 8.55)">e</text>
<text x="0" y="0" font-size="1" style="font-family:'Liberation Sans', sans-serif" font-weight="bold" fill="#000" stroke="#000" stroke-width="0.0193" transform="matrix(15.522 0 0 16.828 480.65 199.45)">f</text>
<text x="0" y="0" font-size="1" style="font-family:'Liberation Serif', serif" font-weight="bold" fill="#000" stroke="#000" stroke-width="0.0197" transform="matrix(15.200 0 0 15.259 0.05 357.98)">g</text>
<text x="0" y="0" font-size="1" style="font-family:'Liberation Sans', sans-serif" font-weight="bold" fill="#000" stroke="#000" stroke-width="0.0251" transform="matrix(11.948 0 0 16.690 2.25 501.35)">h</text>
<text x="0" y="0" font-size="1" style="font-family:'Liberation Sans', sans-serif" font-weight="bold" fill="#000" stroke="#000" stroke-width="0.0210" transform="matrix(11.905 0 0 15.970 159.29 501.28)">j</text>
<text x="0" y="0" font-size="1" style="font-family:'Liberation Sans', sans-serif" font-weight="bold" fill="#000" stroke="#000" stroke-width="0.0246" transform="matrix(12.186 0 0 16.690 332.15 370.65)">k</text>
<text x="0" y="0" font-size="1" style="font-family:'Liberation Sans', sans-serif" font-weight="bold" fill="#000" stroke="#000" stroke-width="0.0973" transform="matrix(7.194 0 0 15.448 506.60 368.30)">l</text>
<rect x="157.2" y="343.9" width="2.8" height="2.1" rx="0.9" fill="#000"/><rect x="157.3" y="347.2" width="2.6" height="8.7" fill="#000"/>
</svg>
</body></html>
